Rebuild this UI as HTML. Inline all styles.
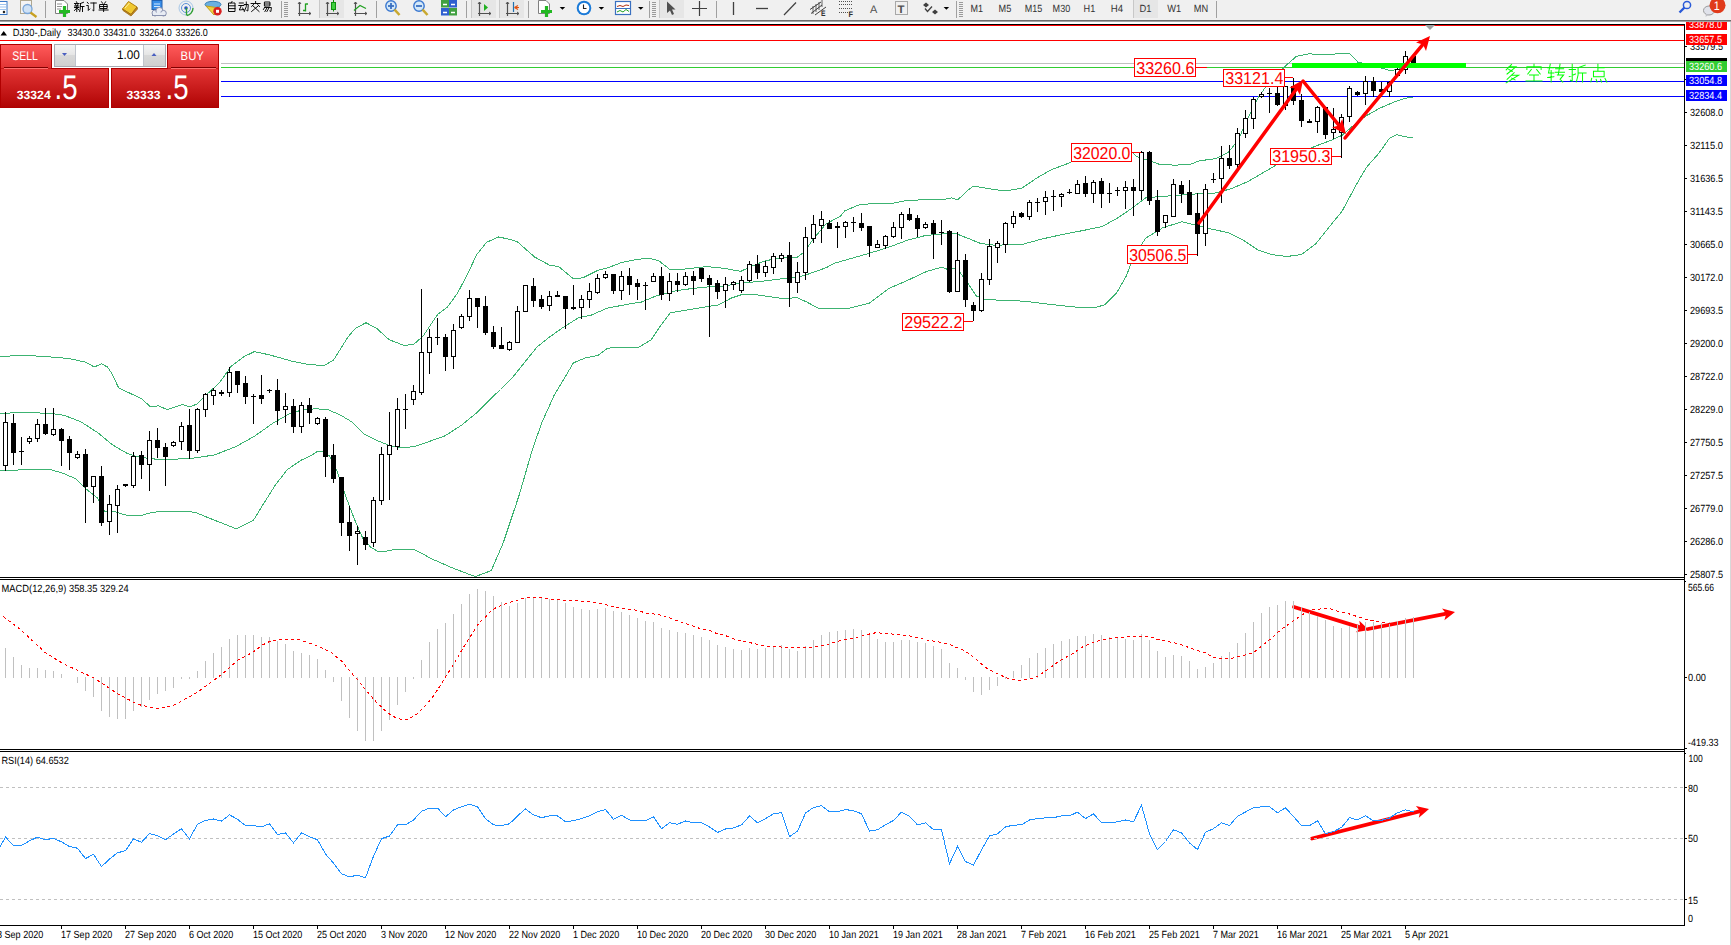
<!DOCTYPE html>
<html><head><meta charset="utf-8"><style>html,body{margin:0;padding:0;background:#fff;overflow:hidden}svg text{font-family:"Liberation Sans",sans-serif;text-rendering:geometricPrecision}</style></head><body>
<svg width="1731" height="945" viewBox="0 0 1731 945" style="display:block;font-family:'Liberation Sans',sans-serif">
<rect x="0" y="0" width="1731" height="945" fill="#ffffff"/>
<rect x="0" y="25" width="1684" height="1" fill="#ff0000"/>
<rect x="0" y="40" width="1684" height="1" fill="#ff0000"/>
<rect x="221" y="63" width="1463" height="1" fill="#c0c0c0"/>
<rect x="221" y="67" width="1463" height="1" fill="#32cd32"/>
<rect x="221" y="81" width="1463" height="1" fill="#0000ff"/>
<rect x="221" y="96" width="1463" height="1" fill="#0000ff"/>
<polyline points="-2.5,356.0 0.5,356.0 10.2,356.0 24.8,355.3 49.1,356.8 68.6,358.5 85.6,362.1 94.2,367.0 101.5,363.8 107.5,367.0 112.4,374.3 118.5,387.7 131.9,394.2 141.6,398.6 150.1,406.6 158.6,405.9 167.1,409.6 182.7,404.6 190.0,406.8 197.3,403.9 207.0,394.2 219.1,383.2 231.3,366.2 243.5,356.9 254.4,351.6 267.8,354.5 280.0,357.7 292.1,361.3 306.7,364.2 323.7,365.7 333.5,360.1 347.8,337.3 355.1,328.7 366.0,322.7 377.0,328.7 389.2,339.7 403.7,345.3 413.5,344.6 423.2,336.0 437.8,314.2 447.5,306.9 457.3,293.5 467.0,275.2 476.7,254.6 486.5,242.4 498.6,237.0 510.8,239.5 517.5,241.9 534.6,257.0 549.2,265.0 558.9,266.7 573.5,278.9 583.2,277.7 597.8,270.4 607.5,267.9 622.1,262.3 636.7,259.4 648.9,258.2 658.6,260.6 670.2,269.7 684.8,269.0 706.7,266.6 723.7,268.3 740.8,271.4 748.1,267.8 762.7,261.7 777.3,258.1 796.7,257.6 804.0,252.0 813.7,238.6 825.9,224.0 840.5,216.2 844.8,210.8 859.4,204.7 874.0,203.5 891.0,203.5 908.1,200.3 925.1,199.8 942.1,199.8 951.9,197.9 957.9,199.8 966.5,191.3 973.7,186.0 985.9,188.2 1004.8,191.0 1021.9,188.1 1036.4,178.3 1051.0,169.8 1070.5,162.5 1087.5,152.8 1107.0,146.7 1116.7,143.6 1126.5,145.5 1136.2,156.4 1150.8,161.3 1160.2,164.6 1174.8,165.1 1189.4,164.6 1199.2,160.9 1216.2,158.5 1228.3,152.4 1238.1,140.2 1247.8,118.3 1257.5,98.9 1267.3,84.3 1277.0,74.6 1286.7,64.8 1296.5,56.3 1309.4,53.8 1322.7,55.0 1337.5,53.8 1350.1,53.8 1358.3,62.7 1362.0,63.0 1383.4,68.6 1390.9,70.9 1396.8,69.4 1413.5,66.5" fill="none" stroke="#3cb371" stroke-width="1" shape-rendering="crispEdges"/>
<polyline points="-2.5,413.2 0.5,413.2 24.8,412.7 49.1,413.2 63.7,415.2 80.8,421.7 97.8,432.7 112.4,444.8 127.0,453.3 136.7,456.5 151.3,458.9 165.9,459.4 190.0,458.6 214.3,455.0 236.2,446.5 255.6,435.5 272.7,423.3 289.7,413.6 301.9,410.0 316.5,408.7 328.6,410.0 340.5,415.1 352.7,422.4 364.8,434.6 377.0,440.6 389.9,445.6 402.6,448.0 415.3,446.4 428.1,441.9 445.1,435.8 462.1,424.8 476.7,412.7 491.3,398.1 500.5,389.5 512.5,377.5 524.5,362.5 537.0,347.0 549.2,337.3 561.3,328.7 578.3,317.8 590.5,315.4 607.5,308.1 627.0,304.4 641.6,302.0 656.2,295.9 675.1,290.9 692.1,288.5 709.2,286.8 723.7,286.0 743.2,282.9 762.7,281.2 782.1,278.7 796.7,277.5 808.9,273.9 825.9,267.8 835.1,263.1 852.1,258.2 869.2,253.3 888.6,247.3 908.1,240.0 925.1,235.6 942.1,233.9 956.7,233.9 968.9,238.7 981.0,243.6 995.1,245.2 1021.9,244.5 1041.3,239.2 1060.8,234.8 1082.7,230.6 1102.1,226.5 1116.7,218.5 1131.3,208.7 1145.9,197.8 1165.1,196.2 1182.1,195.0 1199.2,193.7 1213.7,193.3 1230.8,188.9 1247.8,181.6 1262.4,173.1 1277.0,164.6 1296.5,154.8 1315.5,146.1 1330.1,140.7 1342.0,135.3 1352.4,126.4 1365.7,116.1 1379.0,108.6 1392.4,102.7 1404.2,98.6 1412.5,97.0" fill="none" stroke="#3cb371" stroke-width="1" shape-rendering="crispEdges"/>
<polyline points="-2.5,470.4 0.5,470.4 12.7,470.4 29.7,469.2 49.1,469.2 63.7,473.5 75.9,478.9 85.6,488.6 97.8,498.3 105.1,511.7 114.8,511.7 127.0,515.4 141.6,515.4 151.3,512.5 165.9,511.0 194.8,512.1 209.4,518.2 236.2,528.7 253.2,520.6 262.9,504.8 275.1,485.4 287.3,469.6 301.9,459.8 310.5,455.9 316.8,451.9 323.2,451.4 329.5,455.9 336.7,470.2 343.8,490.8 350.2,508.3 356.5,524.2 362.9,538.4 370.8,547.2 378.8,551.9 385.1,551.5 394.6,549.5 413.7,549.5 420.5,552.7 431.0,558.5 451.1,567.4 475.2,576.6 491.3,570.6 503.4,542.4 519.5,494.1 532.1,450.4 541.9,422.4 554.0,395.6 573.5,362.8 585.6,357.9 597.8,355.5 607.5,348.2 622.1,347.0 639.2,347.0 651.3,339.7 661.0,325.1 670.2,312.8 684.8,310.4 699.4,307.9 718.9,304.8 731.0,298.2 743.2,294.1 757.8,295.0 772.4,297.0 784.6,298.9 796.7,297.5 806.5,301.9 818.6,308.4 847.3,308.6 869.2,303.2 888.6,288.6 908.1,280.1 927.5,271.1 942.1,267.2 947.0,269.2 956.7,267.9 966.5,281.3 976.2,295.9 985.9,299.6 1024.3,301.2 1053.5,304.8 1077.8,307.3 1094.8,307.7 1104.6,304.8 1116.7,292.7 1126.5,275.6 1133.7,256.2 1145.9,237.9 1162.7,227.8 1182.1,221.7 1196.7,225.4 1211.3,229.0 1228.3,232.7 1242.9,240.0 1257.5,249.7 1272.1,254.6 1286.7,256.5 1301.3,254.6 1315.9,243.6 1330.5,225.4 1341.9,211.5 1359.0,179.8 1367.2,166.4 1379.0,153.1 1389.4,138.3 1396.8,134.6 1404.2,136.5 1413.1,138.0" fill="none" stroke="#3cb371" stroke-width="1" shape-rendering="crispEdges"/>
<rect x="5" y="412" width="1" height="59" fill="#000"/>
<rect x="3" y="422" width="5" height="44" fill="#000"/>
<rect x="4" y="423" width="3" height="42" fill="#fff"/>
<rect x="13" y="414" width="1" height="51" fill="#000"/>
<rect x="11" y="423" width="5" height="30" fill="#000"/>
<rect x="21" y="437" width="1" height="28" fill="#000"/>
<rect x="19" y="451" width="5" height="1" fill="#000"/>
<rect x="29" y="436" width="1" height="8" fill="#000"/>
<rect x="27" y="438" width="5" height="4" fill="#000"/>
<rect x="28" y="439" width="3" height="2" fill="#fff"/>
<rect x="37" y="419" width="1" height="23" fill="#000"/>
<rect x="35" y="424" width="5" height="15" fill="#000"/>
<rect x="36" y="425" width="3" height="13" fill="#fff"/>
<rect x="45" y="408" width="1" height="27" fill="#000"/>
<rect x="43" y="424" width="5" height="10" fill="#000"/>
<rect x="53" y="408" width="1" height="28" fill="#000"/>
<rect x="51" y="429" width="5" height="6" fill="#000"/>
<rect x="52" y="430" width="3" height="4" fill="#fff"/>
<rect x="61" y="428" width="1" height="38" fill="#000"/>
<rect x="59" y="429" width="5" height="12" fill="#000"/>
<rect x="69" y="436" width="1" height="34" fill="#000"/>
<rect x="67" y="439" width="5" height="14" fill="#000"/>
<rect x="77" y="451" width="1" height="8" fill="#000"/>
<rect x="75" y="454" width="5" height="4" fill="#000"/>
<rect x="76" y="455" width="3" height="2" fill="#fff"/>
<rect x="85" y="449" width="1" height="74" fill="#000"/>
<rect x="83" y="454" width="5" height="33" fill="#000"/>
<rect x="93" y="476" width="1" height="27" fill="#000"/>
<rect x="91" y="476" width="5" height="11" fill="#000"/>
<rect x="92" y="477" width="3" height="9" fill="#fff"/>
<rect x="101" y="466" width="1" height="60" fill="#000"/>
<rect x="99" y="476" width="5" height="47" fill="#000"/>
<rect x="109" y="495" width="1" height="40" fill="#000"/>
<rect x="107" y="504" width="5" height="18" fill="#000"/>
<rect x="108" y="505" width="3" height="16" fill="#fff"/>
<rect x="117" y="485" width="1" height="48" fill="#000"/>
<rect x="115" y="489" width="5" height="17" fill="#000"/>
<rect x="116" y="490" width="3" height="15" fill="#fff"/>
<rect x="125" y="484" width="1" height="3" fill="#000"/>
<rect x="123" y="484" width="5" height="2" fill="#000"/>
<rect x="133" y="452" width="1" height="36" fill="#000"/>
<rect x="131" y="456" width="5" height="30" fill="#000"/>
<rect x="132" y="457" width="3" height="28" fill="#fff"/>
<rect x="141" y="451" width="1" height="28" fill="#000"/>
<rect x="139" y="455" width="5" height="10" fill="#000"/>
<rect x="149" y="431" width="1" height="60" fill="#000"/>
<rect x="147" y="440" width="5" height="25" fill="#000"/>
<rect x="148" y="441" width="3" height="23" fill="#fff"/>
<rect x="157" y="428" width="1" height="30" fill="#000"/>
<rect x="155" y="440" width="5" height="8" fill="#000"/>
<rect x="165" y="443" width="1" height="43" fill="#000"/>
<rect x="163" y="447" width="5" height="10" fill="#000"/>
<rect x="173" y="441" width="1" height="6" fill="#000"/>
<rect x="171" y="442" width="5" height="4" fill="#000"/>
<rect x="172" y="443" width="3" height="2" fill="#fff"/>
<rect x="181" y="422" width="1" height="28" fill="#000"/>
<rect x="179" y="426" width="5" height="16" fill="#000"/>
<rect x="180" y="427" width="3" height="14" fill="#fff"/>
<rect x="189" y="409" width="1" height="50" fill="#000"/>
<rect x="187" y="425" width="5" height="26" fill="#000"/>
<rect x="197" y="408" width="1" height="45" fill="#000"/>
<rect x="195" y="409" width="5" height="42" fill="#000"/>
<rect x="196" y="410" width="3" height="40" fill="#fff"/>
<rect x="205" y="393" width="1" height="24" fill="#000"/>
<rect x="203" y="394" width="5" height="16" fill="#000"/>
<rect x="204" y="395" width="3" height="14" fill="#fff"/>
<rect x="213" y="388" width="1" height="17" fill="#000"/>
<rect x="211" y="390" width="5" height="6" fill="#000"/>
<rect x="212" y="391" width="3" height="4" fill="#fff"/>
<rect x="221" y="390" width="1" height="6" fill="#000"/>
<rect x="219" y="392" width="5" height="2" fill="#000"/>
<rect x="229" y="367" width="1" height="30" fill="#000"/>
<rect x="227" y="372" width="5" height="21" fill="#000"/>
<rect x="228" y="373" width="3" height="19" fill="#fff"/>
<rect x="237" y="371" width="1" height="22" fill="#000"/>
<rect x="235" y="371" width="5" height="14" fill="#000"/>
<rect x="245" y="376" width="1" height="28" fill="#000"/>
<rect x="243" y="383" width="5" height="14" fill="#000"/>
<rect x="253" y="394" width="1" height="30" fill="#000"/>
<rect x="251" y="396" width="5" height="1" fill="#000"/>
<rect x="261" y="375" width="1" height="29" fill="#000"/>
<rect x="259" y="395" width="5" height="4" fill="#000"/>
<rect x="269" y="389" width="1" height="4" fill="#000"/>
<rect x="267" y="390" width="5" height="1" fill="#000"/>
<rect x="277" y="379" width="1" height="46" fill="#000"/>
<rect x="275" y="390" width="5" height="21" fill="#000"/>
<rect x="285" y="393" width="1" height="30" fill="#000"/>
<rect x="283" y="406" width="5" height="4" fill="#000"/>
<rect x="284" y="407" width="3" height="2" fill="#fff"/>
<rect x="293" y="399" width="1" height="34" fill="#000"/>
<rect x="291" y="406" width="5" height="21" fill="#000"/>
<rect x="301" y="402" width="1" height="31" fill="#000"/>
<rect x="299" y="405" width="5" height="22" fill="#000"/>
<rect x="300" y="406" width="3" height="20" fill="#fff"/>
<rect x="309" y="398" width="1" height="26" fill="#000"/>
<rect x="307" y="405" width="5" height="8" fill="#000"/>
<rect x="317" y="417" width="1" height="8" fill="#000"/>
<rect x="315" y="418" width="5" height="6" fill="#000"/>
<rect x="316" y="419" width="3" height="4" fill="#fff"/>
<rect x="325" y="417" width="1" height="60" fill="#000"/>
<rect x="323" y="419" width="5" height="38" fill="#000"/>
<rect x="333" y="444" width="1" height="39" fill="#000"/>
<rect x="331" y="455" width="5" height="24" fill="#000"/>
<rect x="341" y="477" width="1" height="59" fill="#000"/>
<rect x="339" y="477" width="5" height="46" fill="#000"/>
<rect x="349" y="506" width="1" height="45" fill="#000"/>
<rect x="347" y="522" width="5" height="14" fill="#000"/>
<rect x="357" y="526" width="1" height="39" fill="#000"/>
<rect x="355" y="531" width="5" height="3" fill="#000"/>
<rect x="356" y="532" width="3" height="1" fill="#fff"/>
<rect x="365" y="531" width="1" height="19" fill="#000"/>
<rect x="363" y="537" width="5" height="8" fill="#000"/>
<rect x="373" y="497" width="1" height="50" fill="#000"/>
<rect x="371" y="500" width="5" height="43" fill="#000"/>
<rect x="372" y="501" width="3" height="41" fill="#fff"/>
<rect x="381" y="447" width="1" height="58" fill="#000"/>
<rect x="379" y="454" width="5" height="47" fill="#000"/>
<rect x="380" y="455" width="3" height="45" fill="#fff"/>
<rect x="389" y="412" width="1" height="88" fill="#000"/>
<rect x="387" y="445" width="5" height="10" fill="#000"/>
<rect x="388" y="446" width="3" height="8" fill="#fff"/>
<rect x="397" y="398" width="1" height="52" fill="#000"/>
<rect x="395" y="409" width="5" height="38" fill="#000"/>
<rect x="396" y="410" width="3" height="36" fill="#fff"/>
<rect x="405" y="394" width="1" height="35" fill="#000"/>
<rect x="403" y="409" width="5" height="1" fill="#000"/>
<rect x="413" y="385" width="1" height="20" fill="#000"/>
<rect x="411" y="391" width="5" height="9" fill="#000"/>
<rect x="412" y="392" width="3" height="7" fill="#fff"/>
<rect x="421" y="289" width="1" height="106" fill="#000"/>
<rect x="419" y="352" width="5" height="41" fill="#000"/>
<rect x="420" y="353" width="3" height="39" fill="#fff"/>
<rect x="429" y="329" width="1" height="45" fill="#000"/>
<rect x="427" y="337" width="5" height="16" fill="#000"/>
<rect x="428" y="338" width="3" height="14" fill="#fff"/>
<rect x="437" y="318" width="1" height="27" fill="#000"/>
<rect x="435" y="337" width="5" height="1" fill="#000"/>
<rect x="445" y="334" width="1" height="37" fill="#000"/>
<rect x="443" y="337" width="5" height="20" fill="#000"/>
<rect x="453" y="324" width="1" height="45" fill="#000"/>
<rect x="451" y="330" width="5" height="27" fill="#000"/>
<rect x="452" y="331" width="3" height="25" fill="#fff"/>
<rect x="461" y="314" width="1" height="15" fill="#000"/>
<rect x="459" y="316" width="5" height="12" fill="#000"/>
<rect x="460" y="317" width="3" height="10" fill="#fff"/>
<rect x="469" y="290" width="1" height="31" fill="#000"/>
<rect x="467" y="298" width="5" height="19" fill="#000"/>
<rect x="468" y="299" width="3" height="17" fill="#fff"/>
<rect x="477" y="298" width="1" height="30" fill="#000"/>
<rect x="475" y="298" width="5" height="9" fill="#000"/>
<rect x="485" y="296" width="1" height="39" fill="#000"/>
<rect x="483" y="306" width="5" height="27" fill="#000"/>
<rect x="493" y="326" width="1" height="23" fill="#000"/>
<rect x="491" y="332" width="5" height="15" fill="#000"/>
<rect x="501" y="327" width="1" height="22" fill="#000"/>
<rect x="499" y="345" width="5" height="4" fill="#000"/>
<rect x="509" y="341" width="1" height="10" fill="#000"/>
<rect x="507" y="342" width="5" height="8" fill="#000"/>
<rect x="508" y="343" width="3" height="6" fill="#fff"/>
<rect x="517" y="306" width="1" height="37" fill="#000"/>
<rect x="515" y="311" width="5" height="32" fill="#000"/>
<rect x="516" y="312" width="3" height="30" fill="#fff"/>
<rect x="525" y="285" width="1" height="27" fill="#000"/>
<rect x="523" y="285" width="5" height="27" fill="#000"/>
<rect x="524" y="286" width="3" height="25" fill="#fff"/>
<rect x="533" y="278" width="1" height="29" fill="#000"/>
<rect x="531" y="286" width="5" height="15" fill="#000"/>
<rect x="541" y="295" width="1" height="14" fill="#000"/>
<rect x="539" y="299" width="5" height="8" fill="#000"/>
<rect x="549" y="291" width="1" height="20" fill="#000"/>
<rect x="547" y="296" width="5" height="10" fill="#000"/>
<rect x="548" y="297" width="3" height="8" fill="#fff"/>
<rect x="557" y="291" width="1" height="6" fill="#000"/>
<rect x="555" y="295" width="5" height="2" fill="#000"/>
<rect x="565" y="296" width="1" height="33" fill="#000"/>
<rect x="563" y="296" width="5" height="13" fill="#000"/>
<rect x="573" y="285" width="1" height="25" fill="#000"/>
<rect x="571" y="307" width="5" height="2" fill="#000"/>
<rect x="581" y="295" width="1" height="24" fill="#000"/>
<rect x="579" y="299" width="5" height="9" fill="#000"/>
<rect x="580" y="300" width="3" height="7" fill="#fff"/>
<rect x="589" y="283" width="1" height="25" fill="#000"/>
<rect x="587" y="291" width="5" height="9" fill="#000"/>
<rect x="588" y="292" width="3" height="7" fill="#fff"/>
<rect x="597" y="274" width="1" height="20" fill="#000"/>
<rect x="595" y="278" width="5" height="15" fill="#000"/>
<rect x="596" y="279" width="3" height="13" fill="#fff"/>
<rect x="605" y="271" width="1" height="8" fill="#000"/>
<rect x="603" y="274" width="5" height="4" fill="#000"/>
<rect x="604" y="275" width="3" height="2" fill="#fff"/>
<rect x="613" y="274" width="1" height="20" fill="#000"/>
<rect x="611" y="274" width="5" height="17" fill="#000"/>
<rect x="621" y="271" width="1" height="29" fill="#000"/>
<rect x="619" y="276" width="5" height="15" fill="#000"/>
<rect x="620" y="277" width="3" height="13" fill="#fff"/>
<rect x="629" y="268" width="1" height="27" fill="#000"/>
<rect x="627" y="276" width="5" height="9" fill="#000"/>
<rect x="637" y="279" width="1" height="21" fill="#000"/>
<rect x="635" y="283" width="5" height="4" fill="#000"/>
<rect x="645" y="282" width="1" height="28" fill="#000"/>
<rect x="643" y="285" width="5" height="1" fill="#000"/>
<rect x="653" y="273" width="1" height="9" fill="#000"/>
<rect x="651" y="276" width="5" height="6" fill="#000"/>
<rect x="652" y="277" width="3" height="4" fill="#fff"/>
<rect x="661" y="267" width="1" height="33" fill="#000"/>
<rect x="659" y="276" width="5" height="19" fill="#000"/>
<rect x="669" y="273" width="1" height="28" fill="#000"/>
<rect x="667" y="281" width="5" height="13" fill="#000"/>
<rect x="668" y="282" width="3" height="11" fill="#fff"/>
<rect x="677" y="273" width="1" height="19" fill="#000"/>
<rect x="675" y="281" width="5" height="4" fill="#000"/>
<rect x="685" y="272" width="1" height="14" fill="#000"/>
<rect x="683" y="276" width="5" height="9" fill="#000"/>
<rect x="684" y="277" width="3" height="7" fill="#fff"/>
<rect x="693" y="271" width="1" height="24" fill="#000"/>
<rect x="691" y="276" width="5" height="5" fill="#000"/>
<rect x="701" y="268" width="1" height="14" fill="#000"/>
<rect x="699" y="268" width="5" height="11" fill="#000"/>
<rect x="709" y="275" width="1" height="62" fill="#000"/>
<rect x="707" y="278" width="5" height="7" fill="#000"/>
<rect x="717" y="280" width="1" height="19" fill="#000"/>
<rect x="715" y="283" width="5" height="9" fill="#000"/>
<rect x="725" y="277" width="1" height="31" fill="#000"/>
<rect x="723" y="284" width="5" height="7" fill="#000"/>
<rect x="724" y="285" width="3" height="5" fill="#fff"/>
<rect x="733" y="281" width="1" height="9" fill="#000"/>
<rect x="731" y="282" width="5" height="3" fill="#000"/>
<rect x="732" y="283" width="3" height="1" fill="#fff"/>
<rect x="741" y="276" width="1" height="17" fill="#000"/>
<rect x="739" y="280" width="5" height="11" fill="#000"/>
<rect x="740" y="281" width="3" height="9" fill="#fff"/>
<rect x="749" y="261" width="1" height="21" fill="#000"/>
<rect x="747" y="264" width="5" height="17" fill="#000"/>
<rect x="748" y="265" width="3" height="15" fill="#fff"/>
<rect x="757" y="255" width="1" height="24" fill="#000"/>
<rect x="755" y="264" width="5" height="9" fill="#000"/>
<rect x="765" y="261" width="1" height="16" fill="#000"/>
<rect x="763" y="266" width="5" height="7" fill="#000"/>
<rect x="764" y="267" width="3" height="5" fill="#fff"/>
<rect x="773" y="253" width="1" height="21" fill="#000"/>
<rect x="771" y="256" width="5" height="12" fill="#000"/>
<rect x="772" y="257" width="3" height="10" fill="#fff"/>
<rect x="781" y="253" width="1" height="9" fill="#000"/>
<rect x="779" y="255" width="5" height="4" fill="#000"/>
<rect x="780" y="256" width="3" height="2" fill="#fff"/>
<rect x="789" y="242" width="1" height="65" fill="#000"/>
<rect x="787" y="255" width="5" height="28" fill="#000"/>
<rect x="797" y="262" width="1" height="31" fill="#000"/>
<rect x="795" y="272" width="5" height="11" fill="#000"/>
<rect x="796" y="273" width="3" height="9" fill="#fff"/>
<rect x="805" y="227" width="1" height="53" fill="#000"/>
<rect x="803" y="237" width="5" height="36" fill="#000"/>
<rect x="804" y="238" width="3" height="34" fill="#fff"/>
<rect x="813" y="215" width="1" height="28" fill="#000"/>
<rect x="811" y="224" width="5" height="15" fill="#000"/>
<rect x="812" y="225" width="3" height="13" fill="#fff"/>
<rect x="821" y="211" width="1" height="32" fill="#000"/>
<rect x="819" y="219" width="5" height="7" fill="#000"/>
<rect x="820" y="220" width="3" height="5" fill="#fff"/>
<rect x="829" y="220" width="1" height="9" fill="#000"/>
<rect x="827" y="223" width="5" height="6" fill="#000"/>
<rect x="837" y="222" width="1" height="26" fill="#000"/>
<rect x="835" y="226" width="5" height="2" fill="#000"/>
<rect x="845" y="221" width="1" height="17" fill="#000"/>
<rect x="843" y="222" width="5" height="5" fill="#000"/>
<rect x="844" y="223" width="3" height="3" fill="#fff"/>
<rect x="853" y="217" width="1" height="15" fill="#000"/>
<rect x="851" y="222" width="5" height="1" fill="#000"/>
<rect x="861" y="213" width="1" height="18" fill="#000"/>
<rect x="859" y="223" width="5" height="5" fill="#000"/>
<rect x="869" y="226" width="1" height="31" fill="#000"/>
<rect x="867" y="226" width="5" height="20" fill="#000"/>
<rect x="877" y="240" width="1" height="8" fill="#000"/>
<rect x="875" y="244" width="5" height="4" fill="#000"/>
<rect x="876" y="245" width="3" height="2" fill="#fff"/>
<rect x="885" y="235" width="1" height="14" fill="#000"/>
<rect x="883" y="236" width="5" height="10" fill="#000"/>
<rect x="884" y="237" width="3" height="8" fill="#fff"/>
<rect x="893" y="222" width="1" height="16" fill="#000"/>
<rect x="891" y="227" width="5" height="10" fill="#000"/>
<rect x="892" y="228" width="3" height="8" fill="#fff"/>
<rect x="901" y="212" width="1" height="27" fill="#000"/>
<rect x="899" y="214" width="5" height="14" fill="#000"/>
<rect x="900" y="215" width="3" height="12" fill="#fff"/>
<rect x="909" y="208" width="1" height="13" fill="#000"/>
<rect x="907" y="214" width="5" height="6" fill="#000"/>
<rect x="917" y="215" width="1" height="22" fill="#000"/>
<rect x="915" y="218" width="5" height="11" fill="#000"/>
<rect x="925" y="222" width="1" height="7" fill="#000"/>
<rect x="923" y="224" width="5" height="4" fill="#000"/>
<rect x="924" y="225" width="3" height="2" fill="#fff"/>
<rect x="933" y="220" width="1" height="39" fill="#000"/>
<rect x="931" y="223" width="5" height="11" fill="#000"/>
<rect x="941" y="220" width="1" height="25" fill="#000"/>
<rect x="939" y="232" width="5" height="1" fill="#000"/>
<rect x="949" y="230" width="1" height="63" fill="#000"/>
<rect x="947" y="231" width="5" height="61" fill="#000"/>
<rect x="957" y="232" width="1" height="60" fill="#000"/>
<rect x="955" y="260" width="5" height="32" fill="#000"/>
<rect x="956" y="261" width="3" height="30" fill="#fff"/>
<rect x="965" y="254" width="1" height="53" fill="#000"/>
<rect x="963" y="260" width="5" height="40" fill="#000"/>
<rect x="973" y="302" width="1" height="19" fill="#000"/>
<rect x="971" y="305" width="5" height="6" fill="#000"/>
<rect x="981" y="273" width="1" height="39" fill="#000"/>
<rect x="979" y="279" width="5" height="32" fill="#000"/>
<rect x="980" y="280" width="3" height="30" fill="#fff"/>
<rect x="989" y="239" width="1" height="46" fill="#000"/>
<rect x="987" y="246" width="5" height="34" fill="#000"/>
<rect x="988" y="247" width="3" height="32" fill="#fff"/>
<rect x="997" y="241" width="1" height="22" fill="#000"/>
<rect x="995" y="243" width="5" height="5" fill="#000"/>
<rect x="996" y="244" width="3" height="3" fill="#fff"/>
<rect x="1005" y="222" width="1" height="31" fill="#000"/>
<rect x="1003" y="223" width="5" height="22" fill="#000"/>
<rect x="1004" y="224" width="3" height="20" fill="#fff"/>
<rect x="1013" y="211" width="1" height="17" fill="#000"/>
<rect x="1011" y="216" width="5" height="8" fill="#000"/>
<rect x="1012" y="217" width="3" height="6" fill="#fff"/>
<rect x="1021" y="212" width="1" height="6" fill="#000"/>
<rect x="1019" y="213" width="5" height="4" fill="#000"/>
<rect x="1029" y="200" width="1" height="20" fill="#000"/>
<rect x="1027" y="202" width="5" height="15" fill="#000"/>
<rect x="1028" y="203" width="3" height="13" fill="#fff"/>
<rect x="1037" y="198" width="1" height="14" fill="#000"/>
<rect x="1035" y="202" width="5" height="1" fill="#000"/>
<rect x="1045" y="191" width="1" height="24" fill="#000"/>
<rect x="1043" y="197" width="5" height="5" fill="#000"/>
<rect x="1044" y="198" width="3" height="3" fill="#fff"/>
<rect x="1053" y="190" width="1" height="21" fill="#000"/>
<rect x="1051" y="196" width="5" height="1" fill="#000"/>
<rect x="1061" y="193" width="1" height="14" fill="#000"/>
<rect x="1059" y="194" width="5" height="3" fill="#000"/>
<rect x="1060" y="195" width="3" height="1" fill="#fff"/>
<rect x="1069" y="189" width="1" height="5" fill="#000"/>
<rect x="1067" y="192" width="5" height="1" fill="#000"/>
<rect x="1077" y="180" width="1" height="14" fill="#000"/>
<rect x="1075" y="184" width="5" height="10" fill="#000"/>
<rect x="1076" y="185" width="3" height="8" fill="#fff"/>
<rect x="1085" y="176" width="1" height="21" fill="#000"/>
<rect x="1083" y="183" width="5" height="11" fill="#000"/>
<rect x="1093" y="180" width="1" height="23" fill="#000"/>
<rect x="1091" y="182" width="5" height="12" fill="#000"/>
<rect x="1092" y="183" width="3" height="10" fill="#fff"/>
<rect x="1101" y="178" width="1" height="30" fill="#000"/>
<rect x="1099" y="181" width="5" height="13" fill="#000"/>
<rect x="1109" y="183" width="1" height="20" fill="#000"/>
<rect x="1107" y="193" width="5" height="1" fill="#000"/>
<rect x="1117" y="187" width="1" height="9" fill="#000"/>
<rect x="1115" y="190" width="5" height="1" fill="#000"/>
<rect x="1125" y="181" width="1" height="28" fill="#000"/>
<rect x="1123" y="187" width="5" height="4" fill="#000"/>
<rect x="1124" y="188" width="3" height="2" fill="#fff"/>
<rect x="1133" y="179" width="1" height="37" fill="#000"/>
<rect x="1131" y="187" width="5" height="4" fill="#000"/>
<rect x="1141" y="151" width="1" height="49" fill="#000"/>
<rect x="1139" y="152" width="5" height="39" fill="#000"/>
<rect x="1140" y="153" width="3" height="37" fill="#fff"/>
<rect x="1149" y="151" width="1" height="54" fill="#000"/>
<rect x="1147" y="152" width="5" height="49" fill="#000"/>
<rect x="1157" y="190" width="1" height="46" fill="#000"/>
<rect x="1155" y="200" width="5" height="32" fill="#000"/>
<rect x="1165" y="215" width="1" height="13" fill="#000"/>
<rect x="1163" y="215" width="5" height="8" fill="#000"/>
<rect x="1164" y="216" width="3" height="6" fill="#fff"/>
<rect x="1173" y="179" width="1" height="38" fill="#000"/>
<rect x="1171" y="184" width="5" height="33" fill="#000"/>
<rect x="1172" y="185" width="3" height="31" fill="#fff"/>
<rect x="1181" y="181" width="1" height="22" fill="#000"/>
<rect x="1179" y="185" width="5" height="9" fill="#000"/>
<rect x="1189" y="180" width="1" height="35" fill="#000"/>
<rect x="1187" y="192" width="5" height="23" fill="#000"/>
<rect x="1197" y="193" width="1" height="63" fill="#000"/>
<rect x="1195" y="213" width="5" height="21" fill="#000"/>
<rect x="1205" y="184" width="1" height="62" fill="#000"/>
<rect x="1203" y="189" width="5" height="45" fill="#000"/>
<rect x="1204" y="190" width="3" height="43" fill="#fff"/>
<rect x="1213" y="173" width="1" height="10" fill="#000"/>
<rect x="1211" y="179" width="5" height="1" fill="#000"/>
<rect x="1221" y="146" width="1" height="57" fill="#000"/>
<rect x="1219" y="158" width="5" height="21" fill="#000"/>
<rect x="1220" y="159" width="3" height="19" fill="#fff"/>
<rect x="1229" y="145" width="1" height="24" fill="#000"/>
<rect x="1227" y="158" width="5" height="8" fill="#000"/>
<rect x="1237" y="128" width="1" height="41" fill="#000"/>
<rect x="1235" y="133" width="5" height="32" fill="#000"/>
<rect x="1236" y="134" width="3" height="30" fill="#fff"/>
<rect x="1245" y="110" width="1" height="28" fill="#000"/>
<rect x="1243" y="118" width="5" height="16" fill="#000"/>
<rect x="1244" y="119" width="3" height="14" fill="#fff"/>
<rect x="1253" y="97" width="1" height="32" fill="#000"/>
<rect x="1251" y="99" width="5" height="20" fill="#000"/>
<rect x="1252" y="100" width="3" height="18" fill="#fff"/>
<rect x="1261" y="92" width="1" height="6" fill="#000"/>
<rect x="1259" y="94" width="5" height="3" fill="#000"/>
<rect x="1260" y="95" width="3" height="1" fill="#fff"/>
<rect x="1269" y="88" width="1" height="25" fill="#000"/>
<rect x="1267" y="93" width="5" height="1" fill="#000"/>
<rect x="1277" y="87" width="1" height="19" fill="#000"/>
<rect x="1275" y="93" width="5" height="12" fill="#000"/>
<rect x="1285" y="86" width="1" height="24" fill="#000"/>
<rect x="1283" y="86" width="5" height="20" fill="#000"/>
<rect x="1284" y="87" width="3" height="18" fill="#fff"/>
<rect x="1293" y="78" width="1" height="27" fill="#000"/>
<rect x="1291" y="86" width="5" height="15" fill="#000"/>
<rect x="1301" y="94" width="1" height="33" fill="#000"/>
<rect x="1299" y="100" width="5" height="21" fill="#000"/>
<rect x="1309" y="119" width="1" height="4" fill="#000"/>
<rect x="1307" y="121" width="5" height="2" fill="#000"/>
<rect x="1317" y="106" width="1" height="27" fill="#000"/>
<rect x="1315" y="107" width="5" height="15" fill="#000"/>
<rect x="1316" y="108" width="3" height="13" fill="#fff"/>
<rect x="1325" y="107" width="1" height="32" fill="#000"/>
<rect x="1323" y="107" width="5" height="28" fill="#000"/>
<rect x="1333" y="108" width="1" height="31" fill="#000"/>
<rect x="1331" y="129" width="5" height="4" fill="#000"/>
<rect x="1332" y="130" width="3" height="2" fill="#fff"/>
<rect x="1341" y="114" width="1" height="44" fill="#000"/>
<rect x="1339" y="117" width="5" height="16" fill="#000"/>
<rect x="1340" y="118" width="3" height="14" fill="#fff"/>
<rect x="1349" y="86" width="1" height="36" fill="#000"/>
<rect x="1347" y="88" width="5" height="29" fill="#000"/>
<rect x="1348" y="89" width="3" height="27" fill="#fff"/>
<rect x="1357" y="91" width="1" height="5" fill="#000"/>
<rect x="1355" y="92" width="5" height="3" fill="#000"/>
<rect x="1365" y="76" width="1" height="29" fill="#000"/>
<rect x="1363" y="81" width="5" height="13" fill="#000"/>
<rect x="1364" y="82" width="3" height="11" fill="#fff"/>
<rect x="1373" y="77" width="1" height="20" fill="#000"/>
<rect x="1371" y="81" width="5" height="10" fill="#000"/>
<rect x="1381" y="82" width="1" height="15" fill="#000"/>
<rect x="1379" y="89" width="5" height="3" fill="#000"/>
<rect x="1389" y="81" width="1" height="16" fill="#000"/>
<rect x="1387" y="82" width="5" height="10" fill="#000"/>
<rect x="1388" y="83" width="3" height="8" fill="#fff"/>
<rect x="1397" y="68" width="1" height="9" fill="#000"/>
<rect x="1395" y="69" width="5" height="7" fill="#000"/>
<rect x="1396" y="70" width="3" height="5" fill="#fff"/>
<rect x="1405" y="51" width="1" height="23" fill="#000"/>
<rect x="1403" y="56" width="5" height="14" fill="#000"/>
<rect x="1404" y="57" width="3" height="12" fill="#fff"/>
<rect x="1413" y="56" width="1" height="8" fill="#000"/>
<rect x="1411" y="56" width="5" height="8" fill="#000"/>
<rect x="1292" y="63" width="174" height="5" fill="#00ff00"/>
<rect x="1134.5" y="58.5" width="61" height="18" fill="#fff" stroke="#ff0000" stroke-width="1" shape-rendering="crispEdges"/>
<polyline points="1195.5,67.5 1206.5,67.5" fill="none" stroke="#ff0000" stroke-width="1" shape-rendering="crispEdges"/>
<text x="1136.20" y="74.20" font-size="17.2" fill="#ff0000" textLength="58.20" lengthAdjust="spacingAndGlyphs">33260.6</text>
<rect x="1223.5" y="69.5" width="61" height="17" fill="#fff" stroke="#ff0000" stroke-width="1" shape-rendering="crispEdges"/>
<polyline points="1284.5,77.5 1293.0,77.5" fill="none" stroke="#ff0000" stroke-width="1" shape-rendering="crispEdges"/>
<text x="1225.20" y="84.20" font-size="17.2" fill="#ff0000" textLength="58.20" lengthAdjust="spacingAndGlyphs">33121.4</text>
<rect x="1071.5" y="143.5" width="60" height="18" fill="#fff" stroke="#ff0000" stroke-width="1" shape-rendering="crispEdges"/>
<polyline points="1131.5,152.5 1141.0,152.5" fill="none" stroke="#ff0000" stroke-width="1" shape-rendering="crispEdges"/>
<text x="1073.20" y="159.20" font-size="17.2" fill="#ff0000" textLength="57.20" lengthAdjust="spacingAndGlyphs">32020.0</text>
<rect x="1127.5" y="245.5" width="60" height="18" fill="#fff" stroke="#ff0000" stroke-width="1" shape-rendering="crispEdges"/>
<polyline points="1187.5,254.5 1197.0,254.5" fill="none" stroke="#ff0000" stroke-width="1" shape-rendering="crispEdges"/>
<text x="1129.20" y="261.20" font-size="17.2" fill="#ff0000" textLength="57.20" lengthAdjust="spacingAndGlyphs">30506.5</text>
<rect x="1270.5" y="148.5" width="61" height="16" fill="#fff" stroke="#ff0000" stroke-width="1" shape-rendering="crispEdges"/>
<polyline points="1331.5,156.5 1341.0,156.5" fill="none" stroke="#ff0000" stroke-width="1" shape-rendering="crispEdges"/>
<text x="1272.20" y="162.20" font-size="17.2" fill="#ff0000" textLength="58.20" lengthAdjust="spacingAndGlyphs">31950.3</text>
<rect x="902.5" y="313.5" width="61" height="17" fill="#fff" stroke="#ff0000" stroke-width="1" shape-rendering="crispEdges"/>
<polyline points="963.5,321.5 973.0,321.5" fill="none" stroke="#ff0000" stroke-width="1" shape-rendering="crispEdges"/>
<text x="904.20" y="328.20" font-size="17.2" fill="#ff0000" textLength="58.20" lengthAdjust="spacingAndGlyphs">29522.2</text>
<line x1="1199.0" y1="223.0" x2="1295.9" y2="89.7" stroke="#ff0000" stroke-width="3.5" stroke-linecap="round"/>
<polygon points="1303.0,80.0 1300.0,95.1 1296.5,88.9 1289.5,87.5" fill="#ff0000"/>
<line x1="1303.0" y1="81.0" x2="1338.4" y2="124.7" stroke="#ff0000" stroke-width="3.5" stroke-linecap="round"/>
<polygon points="1346.0,134.0 1332.1,127.2 1339.1,125.5 1342.2,119.0" fill="#ff0000"/>
<line x1="1345.0" y1="138.0" x2="1422.3" y2="45.2" stroke="#ff0000" stroke-width="3.5" stroke-linecap="round"/>
<polygon points="1430.0,36.0 1426.0,50.9 1423.0,44.5 1416.0,42.6" fill="#ff0000"/>
<line x1="1294.0" y1="607.0" x2="1359.4" y2="627.1" stroke="#ff0000" stroke-width="3.8" stroke-linecap="round"/>
<polygon points="1369.0,630.0 1355.8,632.2 1360.4,627.4 1359.3,620.7" fill="#ff0000"/>
<line x1="1368.0" y1="629.0" x2="1445.2" y2="613.9" stroke="#ff0000" stroke-width="3.8" stroke-linecap="round"/>
<polygon points="1455.0,612.0 1444.4,620.2 1446.2,613.7 1442.1,608.4" fill="#ff0000"/>
<line x1="1312.0" y1="838.5" x2="1419.3" y2="811.4" stroke="#ff0000" stroke-width="3.8" stroke-linecap="round"/>
<polygon points="1429.0,809.0 1418.8,817.8 1420.3,811.2 1415.9,806.1" fill="#ff0000"/>
<polygon points="1425,25 1435,25 1430,30" fill="#a0a0a0"/>
<polygon points="0.5,35.5 7,35.5 3.7,31" fill="#000"/>
<text x="12.70" y="36.00" font-size="10.4" fill="#000" textLength="48.10" lengthAdjust="spacingAndGlyphs">DJ30-,Daily</text>
<text x="67.40" y="36.00" font-size="10.4" fill="#000" textLength="32.40" lengthAdjust="spacingAndGlyphs">33430.0</text>
<text x="103.20" y="36.00" font-size="10.4" fill="#000" textLength="32.40" lengthAdjust="spacingAndGlyphs">33431.0</text>
<text x="139.40" y="36.00" font-size="10.4" fill="#000" textLength="32.40" lengthAdjust="spacingAndGlyphs">33264.0</text>
<text x="175.40" y="36.00" font-size="10.4" fill="#000" textLength="32.40" lengthAdjust="spacingAndGlyphs">33326.0</text>
<rect x="0" y="24" width="1685" height="1" fill="#000"/>
<rect x="0" y="577" width="1685" height="1" fill="#000"/>
<rect x="0" y="579" width="1685" height="1" fill="#000"/>
<rect x="0" y="749" width="1685" height="1" fill="#000"/>
<rect x="0" y="751" width="1685" height="1" fill="#000"/>
<rect x="0" y="925" width="1685" height="1" fill="#000"/>
<rect x="1684" y="24" width="1" height="902" fill="#000"/>
<rect x="5" y="648" width="1" height="30" fill="#c0c0c0"/>
<rect x="13" y="657" width="1" height="21" fill="#c0c0c0"/>
<rect x="21" y="665" width="1" height="13" fill="#c0c0c0"/>
<rect x="29" y="668" width="1" height="10" fill="#c0c0c0"/>
<rect x="37" y="668" width="1" height="10" fill="#c0c0c0"/>
<rect x="45" y="670" width="1" height="8" fill="#c0c0c0"/>
<rect x="53" y="671" width="1" height="7" fill="#c0c0c0"/>
<rect x="61" y="674" width="1" height="4" fill="#c0c0c0"/>
<rect x="77" y="677" width="1" height="6" fill="#c0c0c0"/>
<rect x="85" y="677" width="1" height="14" fill="#c0c0c0"/>
<rect x="93" y="677" width="1" height="20" fill="#c0c0c0"/>
<rect x="101" y="677" width="1" height="34" fill="#c0c0c0"/>
<rect x="109" y="677" width="1" height="40" fill="#c0c0c0"/>
<rect x="117" y="677" width="1" height="42" fill="#c0c0c0"/>
<rect x="125" y="677" width="1" height="42" fill="#c0c0c0"/>
<rect x="133" y="677" width="1" height="34" fill="#c0c0c0"/>
<rect x="141" y="677" width="1" height="30" fill="#c0c0c0"/>
<rect x="149" y="677" width="1" height="23" fill="#c0c0c0"/>
<rect x="157" y="677" width="1" height="17" fill="#c0c0c0"/>
<rect x="165" y="677" width="1" height="14" fill="#c0c0c0"/>
<rect x="173" y="677" width="1" height="11" fill="#c0c0c0"/>
<rect x="181" y="677" width="1" height="2" fill="#c0c0c0"/>
<rect x="189" y="677" width="1" height="2" fill="#c0c0c0"/>
<rect x="197" y="671" width="1" height="7" fill="#c0c0c0"/>
<rect x="205" y="661" width="1" height="17" fill="#c0c0c0"/>
<rect x="213" y="653" width="1" height="25" fill="#c0c0c0"/>
<rect x="221" y="647" width="1" height="31" fill="#c0c0c0"/>
<rect x="229" y="639" width="1" height="39" fill="#c0c0c0"/>
<rect x="237" y="635" width="1" height="43" fill="#c0c0c0"/>
<rect x="245" y="635" width="1" height="43" fill="#c0c0c0"/>
<rect x="253" y="635" width="1" height="43" fill="#c0c0c0"/>
<rect x="261" y="637" width="1" height="41" fill="#c0c0c0"/>
<rect x="269" y="637" width="1" height="41" fill="#c0c0c0"/>
<rect x="277" y="641" width="1" height="37" fill="#c0c0c0"/>
<rect x="285" y="644" width="1" height="34" fill="#c0c0c0"/>
<rect x="293" y="651" width="1" height="27" fill="#c0c0c0"/>
<rect x="301" y="653" width="1" height="25" fill="#c0c0c0"/>
<rect x="309" y="655" width="1" height="23" fill="#c0c0c0"/>
<rect x="317" y="659" width="1" height="19" fill="#c0c0c0"/>
<rect x="325" y="670" width="1" height="8" fill="#c0c0c0"/>
<rect x="333" y="677" width="1" height="5" fill="#c0c0c0"/>
<rect x="341" y="677" width="1" height="24" fill="#c0c0c0"/>
<rect x="349" y="677" width="1" height="41" fill="#c0c0c0"/>
<rect x="357" y="677" width="1" height="54" fill="#c0c0c0"/>
<rect x="365" y="677" width="1" height="64" fill="#c0c0c0"/>
<rect x="373" y="677" width="1" height="64" fill="#c0c0c0"/>
<rect x="381" y="677" width="1" height="54" fill="#c0c0c0"/>
<rect x="389" y="677" width="1" height="43" fill="#c0c0c0"/>
<rect x="397" y="677" width="1" height="28" fill="#c0c0c0"/>
<rect x="405" y="677" width="1" height="15" fill="#c0c0c0"/>
<rect x="413" y="677" width="1" height="2" fill="#c0c0c0"/>
<rect x="421" y="660" width="1" height="18" fill="#c0c0c0"/>
<rect x="429" y="642" width="1" height="36" fill="#c0c0c0"/>
<rect x="437" y="629" width="1" height="49" fill="#c0c0c0"/>
<rect x="445" y="623" width="1" height="55" fill="#c0c0c0"/>
<rect x="453" y="614" width="1" height="64" fill="#c0c0c0"/>
<rect x="461" y="604" width="1" height="74" fill="#c0c0c0"/>
<rect x="469" y="594" width="1" height="84" fill="#c0c0c0"/>
<rect x="477" y="589" width="1" height="89" fill="#c0c0c0"/>
<rect x="485" y="591" width="1" height="87" fill="#c0c0c0"/>
<rect x="493" y="596" width="1" height="82" fill="#c0c0c0"/>
<rect x="501" y="602" width="1" height="76" fill="#c0c0c0"/>
<rect x="509" y="606" width="1" height="72" fill="#c0c0c0"/>
<rect x="517" y="603" width="1" height="75" fill="#c0c0c0"/>
<rect x="525" y="598" width="1" height="80" fill="#c0c0c0"/>
<rect x="533" y="597" width="1" height="81" fill="#c0c0c0"/>
<rect x="541" y="598" width="1" height="80" fill="#c0c0c0"/>
<rect x="549" y="599" width="1" height="79" fill="#c0c0c0"/>
<rect x="557" y="600" width="1" height="78" fill="#c0c0c0"/>
<rect x="565" y="603" width="1" height="75" fill="#c0c0c0"/>
<rect x="573" y="607" width="1" height="71" fill="#c0c0c0"/>
<rect x="581" y="609" width="1" height="69" fill="#c0c0c0"/>
<rect x="589" y="610" width="1" height="68" fill="#c0c0c0"/>
<rect x="597" y="609" width="1" height="69" fill="#c0c0c0"/>
<rect x="605" y="608" width="1" height="70" fill="#c0c0c0"/>
<rect x="613" y="611" width="1" height="67" fill="#c0c0c0"/>
<rect x="621" y="612" width="1" height="66" fill="#c0c0c0"/>
<rect x="629" y="615" width="1" height="63" fill="#c0c0c0"/>
<rect x="637" y="618" width="1" height="60" fill="#c0c0c0"/>
<rect x="645" y="621" width="1" height="57" fill="#c0c0c0"/>
<rect x="653" y="622" width="1" height="56" fill="#c0c0c0"/>
<rect x="661" y="628" width="1" height="50" fill="#c0c0c0"/>
<rect x="669" y="630" width="1" height="48" fill="#c0c0c0"/>
<rect x="677" y="632" width="1" height="46" fill="#c0c0c0"/>
<rect x="685" y="633" width="1" height="45" fill="#c0c0c0"/>
<rect x="693" y="635" width="1" height="43" fill="#c0c0c0"/>
<rect x="701" y="637" width="1" height="41" fill="#c0c0c0"/>
<rect x="709" y="640" width="1" height="38" fill="#c0c0c0"/>
<rect x="717" y="645" width="1" height="33" fill="#c0c0c0"/>
<rect x="725" y="647" width="1" height="31" fill="#c0c0c0"/>
<rect x="733" y="649" width="1" height="29" fill="#c0c0c0"/>
<rect x="741" y="650" width="1" height="28" fill="#c0c0c0"/>
<rect x="749" y="648" width="1" height="30" fill="#c0c0c0"/>
<rect x="757" y="649" width="1" height="29" fill="#c0c0c0"/>
<rect x="765" y="648" width="1" height="30" fill="#c0c0c0"/>
<rect x="773" y="646" width="1" height="32" fill="#c0c0c0"/>
<rect x="781" y="645" width="1" height="33" fill="#c0c0c0"/>
<rect x="789" y="649" width="1" height="29" fill="#c0c0c0"/>
<rect x="797" y="651" width="1" height="27" fill="#c0c0c0"/>
<rect x="805" y="646" width="1" height="32" fill="#c0c0c0"/>
<rect x="813" y="640" width="1" height="38" fill="#c0c0c0"/>
<rect x="821" y="635" width="1" height="43" fill="#c0c0c0"/>
<rect x="829" y="632" width="1" height="46" fill="#c0c0c0"/>
<rect x="837" y="631" width="1" height="47" fill="#c0c0c0"/>
<rect x="845" y="630" width="1" height="48" fill="#c0c0c0"/>
<rect x="853" y="629" width="1" height="49" fill="#c0c0c0"/>
<rect x="861" y="630" width="1" height="48" fill="#c0c0c0"/>
<rect x="869" y="635" width="1" height="43" fill="#c0c0c0"/>
<rect x="877" y="639" width="1" height="39" fill="#c0c0c0"/>
<rect x="885" y="642" width="1" height="36" fill="#c0c0c0"/>
<rect x="893" y="642" width="1" height="36" fill="#c0c0c0"/>
<rect x="901" y="640" width="1" height="38" fill="#c0c0c0"/>
<rect x="909" y="640" width="1" height="38" fill="#c0c0c0"/>
<rect x="917" y="642" width="1" height="36" fill="#c0c0c0"/>
<rect x="925" y="643" width="1" height="35" fill="#c0c0c0"/>
<rect x="933" y="646" width="1" height="32" fill="#c0c0c0"/>
<rect x="941" y="649" width="1" height="29" fill="#c0c0c0"/>
<rect x="949" y="663" width="1" height="15" fill="#c0c0c0"/>
<rect x="957" y="668" width="1" height="10" fill="#c0c0c0"/>
<rect x="965" y="677" width="1" height="3" fill="#c0c0c0"/>
<rect x="973" y="677" width="1" height="15" fill="#c0c0c0"/>
<rect x="981" y="677" width="1" height="18" fill="#c0c0c0"/>
<rect x="989" y="677" width="1" height="13" fill="#c0c0c0"/>
<rect x="997" y="677" width="1" height="9" fill="#c0c0c0"/>
<rect x="1005" y="677" width="1" height="2" fill="#c0c0c0"/>
<rect x="1013" y="671" width="1" height="7" fill="#c0c0c0"/>
<rect x="1021" y="665" width="1" height="13" fill="#c0c0c0"/>
<rect x="1029" y="658" width="1" height="20" fill="#c0c0c0"/>
<rect x="1037" y="653" width="1" height="25" fill="#c0c0c0"/>
<rect x="1045" y="648" width="1" height="30" fill="#c0c0c0"/>
<rect x="1053" y="644" width="1" height="34" fill="#c0c0c0"/>
<rect x="1061" y="641" width="1" height="37" fill="#c0c0c0"/>
<rect x="1069" y="639" width="1" height="39" fill="#c0c0c0"/>
<rect x="1077" y="636" width="1" height="42" fill="#c0c0c0"/>
<rect x="1085" y="636" width="1" height="42" fill="#c0c0c0"/>
<rect x="1093" y="634" width="1" height="44" fill="#c0c0c0"/>
<rect x="1101" y="635" width="1" height="43" fill="#c0c0c0"/>
<rect x="1109" y="637" width="1" height="41" fill="#c0c0c0"/>
<rect x="1117" y="638" width="1" height="40" fill="#c0c0c0"/>
<rect x="1125" y="639" width="1" height="39" fill="#c0c0c0"/>
<rect x="1133" y="640" width="1" height="38" fill="#c0c0c0"/>
<rect x="1141" y="634" width="1" height="44" fill="#c0c0c0"/>
<rect x="1149" y="640" width="1" height="38" fill="#c0c0c0"/>
<rect x="1157" y="651" width="1" height="27" fill="#c0c0c0"/>
<rect x="1165" y="657" width="1" height="21" fill="#c0c0c0"/>
<rect x="1173" y="655" width="1" height="23" fill="#c0c0c0"/>
<rect x="1181" y="656" width="1" height="22" fill="#c0c0c0"/>
<rect x="1189" y="661" width="1" height="17" fill="#c0c0c0"/>
<rect x="1197" y="669" width="1" height="9" fill="#c0c0c0"/>
<rect x="1205" y="667" width="1" height="11" fill="#c0c0c0"/>
<rect x="1213" y="663" width="1" height="15" fill="#c0c0c0"/>
<rect x="1221" y="656" width="1" height="22" fill="#c0c0c0"/>
<rect x="1229" y="652" width="1" height="26" fill="#c0c0c0"/>
<rect x="1237" y="643" width="1" height="35" fill="#c0c0c0"/>
<rect x="1245" y="633" width="1" height="45" fill="#c0c0c0"/>
<rect x="1253" y="622" width="1" height="56" fill="#c0c0c0"/>
<rect x="1261" y="613" width="1" height="65" fill="#c0c0c0"/>
<rect x="1269" y="607" width="1" height="71" fill="#c0c0c0"/>
<rect x="1277" y="605" width="1" height="73" fill="#c0c0c0"/>
<rect x="1285" y="601" width="1" height="77" fill="#c0c0c0"/>
<rect x="1293" y="601" width="1" height="77" fill="#c0c0c0"/>
<rect x="1301" y="607" width="1" height="71" fill="#c0c0c0"/>
<rect x="1309" y="612" width="1" height="66" fill="#c0c0c0"/>
<rect x="1317" y="616" width="1" height="62" fill="#c0c0c0"/>
<rect x="1325" y="620" width="1" height="58" fill="#c0c0c0"/>
<rect x="1333" y="626" width="1" height="52" fill="#c0c0c0"/>
<rect x="1341" y="628" width="1" height="50" fill="#c0c0c0"/>
<rect x="1349" y="626" width="1" height="52" fill="#c0c0c0"/>
<rect x="1357" y="625" width="1" height="53" fill="#c0c0c0"/>
<rect x="1365" y="622" width="1" height="56" fill="#c0c0c0"/>
<rect x="1373" y="622" width="1" height="56" fill="#c0c0c0"/>
<rect x="1381" y="623" width="1" height="55" fill="#c0c0c0"/>
<rect x="1389" y="622" width="1" height="56" fill="#c0c0c0"/>
<rect x="1397" y="621" width="1" height="57" fill="#c0c0c0"/>
<rect x="1405" y="618" width="1" height="60" fill="#c0c0c0"/>
<rect x="1413" y="617" width="1" height="61" fill="#c0c0c0"/>
<polyline points="3.4,616.6 20.1,629.3 45.5,652.8 63.1,663.6 94.5,678.3 118.0,693.9 137.5,704.3 157.1,709.0 172.8,705.7 196.3,693.0 221.7,674.4 237.7,660.2 245.8,656.1 253.9,651.6 262.0,645.3 269.2,641.7 277.3,639.9 285.4,639.0 293.5,639.0 299.8,639.9 307.9,642.6 316.9,645.6 324.1,648.9 331.3,652.5 342.0,661.5 349.2,670.5 356.4,678.6 365.4,689.4 374.4,700.1 383.4,709.1 392.4,716.3 401.4,719.4 408.6,719.0 417.6,713.6 424.8,706.4 433.8,695.7 444.6,678.6 453.6,664.2 462.6,648.9 470.5,636.3 478.6,623.7 484.9,617.4 490.3,612.0 495.7,607.8 502.9,604.8 513.7,601.2 524.5,598.0 533.5,597.1 542.5,598.0 556.9,599.8 571.3,600.7 585.6,601.2 596.4,603.0 607.2,605.1 619.8,607.8 636.0,610.2 646.8,613.2 659.4,614.7 668.4,617.4 679.2,621.5 690.0,625.1 699.0,628.2 710.5,630.9 717.7,633.9 724.9,635.4 733.9,639.0 742.9,641.1 753.7,643.5 764.5,646.2 782.5,647.1 800.5,648.0 811.3,647.4 827.4,644.4 840.0,640.8 854.4,638.1 867.0,634.5 876.0,632.7 890.4,633.9 899.4,634.5 912.0,636.3 926.4,639.9 937.2,641.7 950.5,644.7 957.7,648.0 964.9,650.7 975.7,659.1 986.5,668.1 999.1,674.4 1008.1,678.6 1019.8,680.9 1029.7,678.9 1036.9,676.8 1047.7,669.6 1058.5,661.5 1072.8,653.4 1083.6,646.2 1094.4,642.0 1103.4,639.5 1116.0,637.7 1130.4,636.8 1150.2,636.8 1159.2,639.9 1168.2,641.7 1177.2,643.5 1190.5,648.0 1197.7,650.7 1204.9,652.5 1212.1,657.0 1222.9,658.8 1230.1,658.8 1239.1,656.6 1248.1,654.3 1253.5,652.5 1262.5,645.3 1271.5,638.1 1280.5,630.0 1289.5,623.7 1302.1,614.7 1312.9,609.7 1321.9,608.8 1330.9,608.9 1339.9,612.0 1348.9,613.8 1359.7,617.4 1370.5,620.5 1381.3,621.9 1388.5,623.7 1413.5,620.5" fill="none" stroke="#ff0000" stroke-width="1" shape-rendering="crispEdges" stroke-dasharray="3,3"/>
<text x="1.60" y="592.00" font-size="10.4" fill="#000" textLength="127.00" lengthAdjust="spacingAndGlyphs">MACD(12,26,9) 358.35 329.24</text>
<line x1="0" y1="787.5" x2="1684" y2="787.5" stroke="#c0c0c0" stroke-width="1" stroke-dasharray="3,3" shape-rendering="crispEdges"/>
<line x1="0" y1="838.5" x2="1684" y2="838.5" stroke="#c0c0c0" stroke-width="1" stroke-dasharray="3,3" shape-rendering="crispEdges"/>
<line x1="0" y1="899.5" x2="1684" y2="899.5" stroke="#c0c0c0" stroke-width="1" stroke-dasharray="3,3" shape-rendering="crispEdges"/>
<polyline points="-2.5,851.5 5.5,837.1 13.5,845.5 21.5,845.5 29.5,840.9 37.5,837.1 45.5,839.8 53.5,838.2 61.5,841.9 69.5,846.5 77.5,848.2 85.5,858.6 93.5,854.2 101.5,866.7 109.5,859.0 117.5,852.8 125.5,850.7 133.5,838.8 141.5,842.3 149.5,833.6 157.5,835.7 165.5,839.8 173.5,834.0 181.5,828.8 189.5,838.8 197.5,824.2 205.5,820.4 213.5,819.0 221.5,821.1 229.5,814.8 237.5,819.3 245.5,825.6 253.5,825.6 261.5,826.9 269.5,823.8 277.5,834.6 285.5,832.9 293.5,842.9 301.5,832.9 309.5,836.7 317.5,839.8 325.5,854.0 333.5,863.0 341.5,873.7 349.5,876.9 357.5,875.1 365.5,877.8 373.5,856.1 381.5,838.7 389.5,836.0 397.5,824.9 405.5,824.9 413.5,820.0 421.5,811.3 429.5,808.0 437.5,808.0 445.5,816.8 453.5,809.9 461.5,806.8 469.5,804.1 477.5,806.8 485.5,818.6 493.5,824.9 501.5,825.6 509.5,823.8 517.5,815.9 525.5,808.9 533.5,814.9 541.5,817.7 549.5,815.9 557.5,815.9 565.5,821.8 573.5,820.7 581.5,818.6 589.5,815.9 597.5,811.7 605.5,809.6 613.5,819.3 621.5,815.2 629.5,820.0 637.5,820.7 645.5,820.7 653.5,816.8 661.5,828.7 669.5,822.8 677.5,824.2 685.5,821.0 693.5,822.8 701.5,822.8 709.5,826.9 717.5,832.5 725.5,829.0 733.5,827.9 741.5,824.9 749.5,815.9 757.5,822.8 765.5,818.6 773.5,813.8 781.5,812.7 789.5,836.7 797.5,831.1 805.5,813.1 813.5,807.5 821.5,805.7 829.5,811.7 837.5,811.7 845.5,809.6 853.5,810.7 861.5,813.8 869.5,831.1 877.5,829.7 885.5,824.9 893.5,820.4 901.5,812.1 909.5,816.3 917.5,824.9 925.5,822.8 933.5,829.7 941.5,829.7 949.5,863.7 957.5,846.4 965.5,861.6 973.5,865.1 981.5,849.8 989.5,836.0 997.5,833.9 1005.5,826.9 1013.5,825.1 1021.5,824.9 1029.5,820.0 1037.5,818.6 1045.5,817.9 1053.5,817.7 1061.5,815.9 1069.5,815.9 1077.5,812.1 1085.5,818.6 1093.5,813.8 1101.5,822.8 1109.5,822.8 1117.5,821.8 1125.5,820.0 1133.5,821.8 1141.5,805.2 1149.5,833.9 1157.5,849.8 1165.5,841.5 1173.5,829.7 1181.5,832.9 1189.5,842.9 1197.5,849.6 1205.5,832.3 1213.5,828.6 1221.5,822.9 1229.5,825.6 1237.5,816.2 1245.5,812.0 1253.5,807.8 1261.5,806.8 1269.5,806.8 1277.5,812.8 1285.5,807.8 1293.5,816.5 1301.5,825.6 1309.5,825.6 1317.5,820.8 1325.5,833.8 1333.5,831.6 1341.5,827.4 1349.5,817.7 1357.5,819.9 1365.5,815.8 1373.5,820.8 1381.5,820.3 1389.5,818.0 1397.5,812.8 1405.5,809.8 1413.5,812.0" fill="none" stroke="#1e90ff" stroke-width="1" shape-rendering="crispEdges"/>
<text x="1.50" y="764.00" font-size="10.4" fill="#000" textLength="67.30" lengthAdjust="spacingAndGlyphs">RSI(14) 64.6532</text>
<rect x="1730" y="20" width="1" height="925" fill="#d8d8d8"/>
<rect x="1685" y="46" width="2" height="1" fill="#000"/>
<text x="1690.00" y="50.00" font-size="10.4" fill="#000" textLength="33.00" lengthAdjust="spacingAndGlyphs">33579.5</text>
<rect x="1685" y="79" width="2" height="1" fill="#000"/>
<text x="1690.00" y="83.00" font-size="10.4" fill="#000" textLength="33.00" lengthAdjust="spacingAndGlyphs">33357.0</text>
<rect x="1685" y="112" width="2" height="1" fill="#000"/>
<text x="1690.00" y="116.00" font-size="10.4" fill="#000" textLength="33.00" lengthAdjust="spacingAndGlyphs">32608.0</text>
<rect x="1685" y="145" width="2" height="1" fill="#000"/>
<text x="1690.00" y="149.00" font-size="10.4" fill="#000" textLength="33.00" lengthAdjust="spacingAndGlyphs">32115.0</text>
<rect x="1685" y="178" width="2" height="1" fill="#000"/>
<text x="1690.00" y="182.00" font-size="10.4" fill="#000" textLength="33.00" lengthAdjust="spacingAndGlyphs">31636.5</text>
<rect x="1685" y="211" width="2" height="1" fill="#000"/>
<text x="1690.00" y="215.00" font-size="10.4" fill="#000" textLength="33.00" lengthAdjust="spacingAndGlyphs">31143.5</text>
<rect x="1685" y="244" width="2" height="1" fill="#000"/>
<text x="1690.00" y="248.00" font-size="10.4" fill="#000" textLength="33.00" lengthAdjust="spacingAndGlyphs">30665.0</text>
<rect x="1685" y="277" width="2" height="1" fill="#000"/>
<text x="1690.00" y="281.00" font-size="10.4" fill="#000" textLength="33.00" lengthAdjust="spacingAndGlyphs">30172.0</text>
<rect x="1685" y="310" width="2" height="1" fill="#000"/>
<text x="1690.00" y="314.00" font-size="10.4" fill="#000" textLength="33.00" lengthAdjust="spacingAndGlyphs">29693.5</text>
<rect x="1685" y="343" width="2" height="1" fill="#000"/>
<text x="1690.00" y="347.00" font-size="10.4" fill="#000" textLength="33.00" lengthAdjust="spacingAndGlyphs">29200.0</text>
<rect x="1685" y="376" width="2" height="1" fill="#000"/>
<text x="1690.00" y="380.00" font-size="10.4" fill="#000" textLength="33.00" lengthAdjust="spacingAndGlyphs">28722.0</text>
<rect x="1685" y="409" width="2" height="1" fill="#000"/>
<text x="1690.00" y="413.00" font-size="10.4" fill="#000" textLength="33.00" lengthAdjust="spacingAndGlyphs">28229.0</text>
<rect x="1685" y="442" width="2" height="1" fill="#000"/>
<text x="1690.00" y="446.00" font-size="10.4" fill="#000" textLength="33.00" lengthAdjust="spacingAndGlyphs">27750.5</text>
<rect x="1685" y="475" width="2" height="1" fill="#000"/>
<text x="1690.00" y="479.00" font-size="10.4" fill="#000" textLength="33.00" lengthAdjust="spacingAndGlyphs">27257.5</text>
<rect x="1685" y="508" width="2" height="1" fill="#000"/>
<text x="1690.00" y="512.00" font-size="10.4" fill="#000" textLength="33.00" lengthAdjust="spacingAndGlyphs">26779.0</text>
<rect x="1685" y="541" width="2" height="1" fill="#000"/>
<text x="1690.00" y="545.00" font-size="10.4" fill="#000" textLength="33.00" lengthAdjust="spacingAndGlyphs">26286.0</text>
<rect x="1685" y="574" width="2" height="1" fill="#000"/>
<text x="1690.00" y="578.00" font-size="10.4" fill="#000" textLength="33.00" lengthAdjust="spacingAndGlyphs">25807.5</text>
<rect x="1686" y="58" width="41" height="11" fill="#000"/>
<rect x="1686" y="22" width="41" height="8" fill="#ff0000"/>
<text x="1689.00" y="27.50" font-size="10.4" fill="#fff" textLength="33.00" lengthAdjust="spacingAndGlyphs">33878.0</text>
<rect x="1686" y="34" width="41" height="11" fill="#ff0000"/>
<text x="1689.00" y="42.60" font-size="10.4" fill="#fff" textLength="33.00" lengthAdjust="spacingAndGlyphs">33657.5</text>
<rect x="1686" y="61" width="41" height="11" fill="#32cd32"/>
<text x="1689.00" y="69.80" font-size="10.4" fill="#fff" textLength="33.00" lengthAdjust="spacingAndGlyphs">33260.6</text>
<rect x="1686" y="75" width="41" height="11" fill="#0000ff"/>
<text x="1689.00" y="83.60" font-size="10.4" fill="#fff" textLength="33.00" lengthAdjust="spacingAndGlyphs">33054.8</text>
<rect x="1686" y="90" width="41" height="11" fill="#0000ff"/>
<text x="1689.00" y="98.80" font-size="10.4" fill="#fff" textLength="33.00" lengthAdjust="spacingAndGlyphs">32834.4</text>
<rect x="1685" y="581" width="1" height="1" fill="#000"/>
<text x="1688.00" y="591.00" font-size="10.4" fill="#000" textLength="26.00" lengthAdjust="spacingAndGlyphs">565.66</text>
<rect x="1685" y="677" width="2" height="1" fill="#000"/>
<text x="1688.00" y="681.00" font-size="10.4" fill="#000" textLength="18.00" lengthAdjust="spacingAndGlyphs">0.00</text>
<rect x="1685" y="748" width="2" height="1" fill="#000"/>
<text x="1688.00" y="746.00" font-size="10.4" fill="#000" textLength="30.60" lengthAdjust="spacingAndGlyphs">-419.33</text>
<rect x="1685" y="753" width="1" height="1" fill="#000"/>
<text x="1688.50" y="762.00" font-size="10.4" fill="#000" textLength="14.30" lengthAdjust="spacingAndGlyphs">100</text>
<rect x="1685" y="787" width="2" height="1" fill="#000"/>
<text x="1688.00" y="791.50" font-size="10.4" fill="#000" textLength="10.00" lengthAdjust="spacingAndGlyphs">80</text>
<rect x="1685" y="838" width="2" height="1" fill="#000"/>
<text x="1688.00" y="842.00" font-size="10.4" fill="#000" textLength="10.00" lengthAdjust="spacingAndGlyphs">50</text>
<rect x="1685" y="899" width="2" height="1" fill="#000"/>
<text x="1688.00" y="903.50" font-size="10.4" fill="#000" textLength="10.00" lengthAdjust="spacingAndGlyphs">15</text>
<text x="1688.00" y="921.50" font-size="10.4" fill="#000" textLength="5.00" lengthAdjust="spacingAndGlyphs">0</text>
<rect x="-3" y="926" width="1" height="3" fill="#000"/>
<text x="-3.00" y="938.00" font-size="10.4" fill="#000" textLength="46.29" lengthAdjust="spacingAndGlyphs">8 Sep 2020</text>
<rect x="61" y="926" width="1" height="3" fill="#000"/>
<text x="61.00" y="938.00" font-size="10.4" fill="#000" textLength="51.32" lengthAdjust="spacingAndGlyphs">17 Sep 2020</text>
<rect x="125" y="926" width="1" height="3" fill="#000"/>
<text x="125.00" y="938.00" font-size="10.4" fill="#000" textLength="51.32" lengthAdjust="spacingAndGlyphs">27 Sep 2020</text>
<rect x="189" y="926" width="1" height="3" fill="#000"/>
<text x="189.00" y="938.00" font-size="10.4" fill="#000" textLength="44.26" lengthAdjust="spacingAndGlyphs">6 Oct 2020</text>
<rect x="253" y="926" width="1" height="3" fill="#000"/>
<text x="253.00" y="938.00" font-size="10.4" fill="#000" textLength="49.30" lengthAdjust="spacingAndGlyphs">15 Oct 2020</text>
<rect x="317" y="926" width="1" height="3" fill="#000"/>
<text x="317.00" y="938.00" font-size="10.4" fill="#000" textLength="49.30" lengthAdjust="spacingAndGlyphs">25 Oct 2020</text>
<rect x="381" y="926" width="1" height="3" fill="#000"/>
<text x="381.00" y="938.00" font-size="10.4" fill="#000" textLength="46.28" lengthAdjust="spacingAndGlyphs">3 Nov 2020</text>
<rect x="445" y="926" width="1" height="3" fill="#000"/>
<text x="445.00" y="938.00" font-size="10.4" fill="#000" textLength="51.31" lengthAdjust="spacingAndGlyphs">12 Nov 2020</text>
<rect x="509" y="926" width="1" height="3" fill="#000"/>
<text x="509.00" y="938.00" font-size="10.4" fill="#000" textLength="51.31" lengthAdjust="spacingAndGlyphs">22 Nov 2020</text>
<rect x="573" y="926" width="1" height="3" fill="#000"/>
<text x="573.00" y="938.00" font-size="10.4" fill="#000" textLength="46.28" lengthAdjust="spacingAndGlyphs">1 Dec 2020</text>
<rect x="637" y="926" width="1" height="3" fill="#000"/>
<text x="637.00" y="938.00" font-size="10.4" fill="#000" textLength="51.31" lengthAdjust="spacingAndGlyphs">10 Dec 2020</text>
<rect x="701" y="926" width="1" height="3" fill="#000"/>
<text x="701.00" y="938.00" font-size="10.4" fill="#000" textLength="51.31" lengthAdjust="spacingAndGlyphs">20 Dec 2020</text>
<rect x="765" y="926" width="1" height="3" fill="#000"/>
<text x="765.00" y="938.00" font-size="10.4" fill="#000" textLength="51.31" lengthAdjust="spacingAndGlyphs">30 Dec 2020</text>
<rect x="829" y="926" width="1" height="3" fill="#000"/>
<text x="829.00" y="938.00" font-size="10.4" fill="#000" textLength="49.81" lengthAdjust="spacingAndGlyphs">10 Jan 2021</text>
<rect x="893" y="926" width="1" height="3" fill="#000"/>
<text x="893.00" y="938.00" font-size="10.4" fill="#000" textLength="49.81" lengthAdjust="spacingAndGlyphs">19 Jan 2021</text>
<rect x="957" y="926" width="1" height="3" fill="#000"/>
<text x="957.00" y="938.00" font-size="10.4" fill="#000" textLength="49.81" lengthAdjust="spacingAndGlyphs">28 Jan 2021</text>
<rect x="1021" y="926" width="1" height="3" fill="#000"/>
<text x="1021.00" y="938.00" font-size="10.4" fill="#000" textLength="45.78" lengthAdjust="spacingAndGlyphs">7 Feb 2021</text>
<rect x="1085" y="926" width="1" height="3" fill="#000"/>
<text x="1085.00" y="938.00" font-size="10.4" fill="#000" textLength="50.81" lengthAdjust="spacingAndGlyphs">16 Feb 2021</text>
<rect x="1149" y="926" width="1" height="3" fill="#000"/>
<text x="1149.00" y="938.00" font-size="10.4" fill="#000" textLength="50.81" lengthAdjust="spacingAndGlyphs">25 Feb 2021</text>
<rect x="1213" y="926" width="1" height="3" fill="#000"/>
<text x="1213.00" y="938.00" font-size="10.4" fill="#000" textLength="45.77" lengthAdjust="spacingAndGlyphs">7 Mar 2021</text>
<rect x="1277" y="926" width="1" height="3" fill="#000"/>
<text x="1277.00" y="938.00" font-size="10.4" fill="#000" textLength="50.80" lengthAdjust="spacingAndGlyphs">16 Mar 2021</text>
<rect x="1341" y="926" width="1" height="3" fill="#000"/>
<text x="1341.00" y="938.00" font-size="10.4" fill="#000" textLength="50.80" lengthAdjust="spacingAndGlyphs">25 Mar 2021</text>
<rect x="1405" y="926" width="1" height="3" fill="#000"/>
<text x="1405.00" y="938.00" font-size="10.4" fill="#000" textLength="43.77" lengthAdjust="spacingAndGlyphs">5 Apr 2021</text>
<defs>
<linearGradient id="gTab" x1="0" y1="0" x2="0" y2="1"><stop offset="0" stop-color="#ff5a5a"/><stop offset="1" stop-color="#e23434"/></linearGradient>
<linearGradient id="gLow" x1="0" y1="0" x2="0" y2="1"><stop offset="0" stop-color="#e23434"/><stop offset="1" stop-color="#b00404"/></linearGradient>
<linearGradient id="gBtn" x1="0" y1="0" x2="0" y2="1"><stop offset="0" stop-color="#f4f4f4"/><stop offset="0.45" stop-color="#e6e6e6"/><stop offset="0.5" stop-color="#d8d8d8"/><stop offset="1" stop-color="#d0d0d0"/></linearGradient>
<linearGradient id="gTool" x1="0" y1="0" x2="0" y2="1"><stop offset="0" stop-color="#f2f2f2"/><stop offset="1" stop-color="#eeeeee"/></linearGradient>
</defs>
<rect x="0" y="44" width="52" height="25" fill="#b00000"/>
<rect x="1" y="45" width="50" height="23" fill="url(#gTab)"/>
<rect x="0" y="68" width="109" height="40" fill="#b00000"/>
<rect x="1" y="69" width="107" height="38" fill="url(#gLow)"/>
<rect x="1" y="68" width="50" height="1" fill="url(#gLow)"/>
<rect x="167" y="44" width="52" height="25" fill="#b00000"/>
<rect x="168" y="45" width="50" height="23" fill="url(#gTab)"/>
<rect x="111" y="68" width="108" height="40" fill="#b00000"/>
<rect x="112" y="69" width="106" height="38" fill="url(#gLow)"/>
<rect x="168" y="68" width="50" height="1" fill="url(#gLow)"/>
<rect x="4" y="67" width="44" height="1" fill="#800000"/>
<rect x="4" y="68" width="44" height="1" fill="#ff7070"/>
<rect x="171" y="67" width="45" height="1" fill="#800000"/>
<rect x="171" y="68" width="45" height="1" fill="#ff7070"/>
<text x="12.20" y="60.00" font-size="12.5" fill="#fff" textLength="25.60" lengthAdjust="spacingAndGlyphs">SELL</text>
<text x="180.60" y="60.00" font-size="12.5" fill="#fff" textLength="23.30" lengthAdjust="spacingAndGlyphs">BUY</text>
<text x="16.70" y="99.00" font-size="12" fill="#fff" textLength="34.00" lengthAdjust="spacingAndGlyphs" font-weight="bold">33324</text>
<text x="54.50" y="99.30" font-size="34" fill="#fff" textLength="23.00" lengthAdjust="spacingAndGlyphs">.5</text>
<text x="126.50" y="99.00" font-size="12" fill="#fff" textLength="34.00" lengthAdjust="spacingAndGlyphs" font-weight="bold">33333</text>
<text x="165.50" y="99.30" font-size="34" fill="#fff" textLength="23.00" lengthAdjust="spacingAndGlyphs">.5</text>
<rect x="54" y="44" width="112" height="23" fill="#a8abb3"/>
<rect x="55" y="45" width="110" height="21" fill="#ffffff"/>
<rect x="55" y="45" width="20" height="21" fill="url(#gBtn)"/>
<rect x="75" y="45" width="1" height="21" fill="#c0c4cc"/>
<rect x="143" y="45" width="1" height="21" fill="#c0c4cc"/>
<rect x="144" y="45" width="21" height="21" fill="url(#gBtn)"/>
<polygon points="62,53 67,53 64.5,56" fill="#4a5fc0"/>
<polygon points="151.5,56 156.5,56 154,53" fill="#4a5fc0"/>
<text x="116.90" y="59.00" font-size="12.5" fill="#000" textLength="22.90" lengthAdjust="spacingAndGlyphs">1.00</text>
<rect x="0" y="0" width="1731" height="20" fill="#f0f0f0"/>
<rect x="0" y="20" width="1731" height="1" fill="#6c6c6c"/>
<rect x="0" y="21" width="1731" height="1" fill="#a4a4a4"/>
<rect x="45" y="1" width="1" height="17" fill="#a0a0a0"/>
<rect x="281" y="1" width="1" height="17" fill="#a0a0a0"/>
<rect x="319" y="1" width="1" height="17" fill="#a0a0a0"/>
<rect x="376" y="1" width="1" height="17" fill="#a0a0a0"/>
<rect x="466" y="1" width="1" height="17" fill="#a0a0a0"/>
<rect x="499" y="1" width="1" height="17" fill="#a0a0a0"/>
<rect x="528" y="1" width="1" height="17" fill="#a0a0a0"/>
<rect x="649" y="1" width="1" height="17" fill="#a0a0a0"/>
<rect x="716" y="1" width="1" height="17" fill="#a0a0a0"/>
<rect x="956" y="1" width="1" height="17" fill="#a0a0a0"/>
<rect x="1216" y="1" width="1" height="17" fill="#a0a0a0"/>
<rect x="320" y="0" width="24" height="18" fill="#e6e6e6"/>
<rect x="319" y="0" width="1" height="18" fill="#c8c8c8"/>
<rect x="472" y="0" width="24" height="18" fill="#e6e6e6"/>
<rect x="471" y="0" width="1" height="18" fill="#c8c8c8"/>
<rect x="500" y="0" width="24" height="18" fill="#e6e6e6"/>
<rect x="499" y="0" width="1" height="18" fill="#c8c8c8"/>
<rect x="660" y="0" width="24" height="18" fill="#e6e6e6"/>
<rect x="659" y="0" width="1" height="18" fill="#c8c8c8"/>
<rect x="1134" y="0" width="24" height="18" fill="#e6e6e6"/>
<rect x="1133" y="0" width="1" height="18" fill="#c8c8c8"/>
<rect x="284" y="2" width="4" height="1" fill="#9a9a9a"/>
<rect x="284" y="4" width="4" height="1" fill="#9a9a9a"/>
<rect x="284" y="6" width="4" height="1" fill="#9a9a9a"/>
<rect x="284" y="8" width="4" height="1" fill="#9a9a9a"/>
<rect x="284" y="10" width="4" height="1" fill="#9a9a9a"/>
<rect x="284" y="12" width="4" height="1" fill="#9a9a9a"/>
<rect x="284" y="14" width="4" height="1" fill="#9a9a9a"/>
<rect x="284" y="16" width="4" height="1" fill="#9a9a9a"/>
<rect x="652" y="2" width="4" height="1" fill="#9a9a9a"/>
<rect x="652" y="4" width="4" height="1" fill="#9a9a9a"/>
<rect x="652" y="6" width="4" height="1" fill="#9a9a9a"/>
<rect x="652" y="8" width="4" height="1" fill="#9a9a9a"/>
<rect x="652" y="10" width="4" height="1" fill="#9a9a9a"/>
<rect x="652" y="12" width="4" height="1" fill="#9a9a9a"/>
<rect x="652" y="14" width="4" height="1" fill="#9a9a9a"/>
<rect x="652" y="16" width="4" height="1" fill="#9a9a9a"/>
<rect x="959" y="2" width="4" height="1" fill="#9a9a9a"/>
<rect x="959" y="4" width="4" height="1" fill="#9a9a9a"/>
<rect x="959" y="6" width="4" height="1" fill="#9a9a9a"/>
<rect x="959" y="8" width="4" height="1" fill="#9a9a9a"/>
<rect x="959" y="10" width="4" height="1" fill="#9a9a9a"/>
<rect x="959" y="12" width="4" height="1" fill="#9a9a9a"/>
<rect x="959" y="14" width="4" height="1" fill="#9a9a9a"/>
<rect x="959" y="16" width="4" height="1" fill="#9a9a9a"/>
<text x="970.50" y="12.00" font-size="10.4" fill="#333" textLength="12.50" lengthAdjust="spacingAndGlyphs">M1</text>
<text x="998.60" y="12.00" font-size="10.4" fill="#333" textLength="12.70" lengthAdjust="spacingAndGlyphs">M5</text>
<text x="1024.70" y="12.00" font-size="10.4" fill="#333" textLength="17.50" lengthAdjust="spacingAndGlyphs">M15</text>
<text x="1052.60" y="12.00" font-size="10.4" fill="#333" textLength="17.60" lengthAdjust="spacingAndGlyphs">M30</text>
<text x="1083.60" y="12.00" font-size="10.4" fill="#333" textLength="11.70" lengthAdjust="spacingAndGlyphs">H1</text>
<text x="1110.70" y="12.00" font-size="10.4" fill="#333" textLength="12.30" lengthAdjust="spacingAndGlyphs">H4</text>
<text x="1139.50" y="12.00" font-size="10.4" fill="#333" textLength="12.00" lengthAdjust="spacingAndGlyphs">D1</text>
<text x="1167.30" y="12.00" font-size="10.4" fill="#333" textLength="13.90" lengthAdjust="spacingAndGlyphs">W1</text>
<text x="1193.80" y="12.00" font-size="10.4" fill="#333" textLength="14.40" lengthAdjust="spacingAndGlyphs">MN</text>
<rect x="-3" y="1.5" width="10" height="13" fill="#fff" stroke="#3a78c8" stroke-width="1"/>
<path d="M0 4.5H6M0 7H6M0 9.5H6" stroke="#9ec3ee" stroke-width="1"/>
<rect x="3" y="11" width="2" height="2" fill="#000" transform="rotate(45 4 12)"/>
<rect x="20.5" y="0.5" width="11" height="13" fill="#f4f4f4" stroke="#b0a890"/>
<circle cx="27.5" cy="9" r="4.5" fill="#cfe2f5" stroke="#7aa6d8" stroke-width="1.3"/>
<path d="M30.5 12.5L36.5 17" stroke="#c8a020" stroke-width="2.2"/>
<path d="M55.5 0.5H64L67.5 4V13.5H55.5Z" fill="#fff" stroke="#808080"/>
<path d="M57 4H62M57 6.5H62M57 9H61" stroke="#909090"/>
<path d="M64.5 6V17M59 11.5H70" stroke="#22b822" stroke-width="3.2"/>
<path d="M122.5 9L128.5 1.5L137 7L131 14.5Z" fill="#f0c830" stroke="#b08010"/>
<path d="M122.5 9L123 10.5L131 16L137.5 9L137 7L131 14.5Z" fill="#c88a20" stroke="#9a6a10" stroke-width="0.8"/>
<path d="M125 8L129.5 3" stroke="#fff0a0" stroke-width="1"/>
<rect x="152" y="0.5" width="10" height="9" fill="#3a8ee8" stroke="#2060b0"/>
<path d="M154 4H160M154 6.5H160" stroke="#d0e8ff"/>
<g fill="#e8ecf4" stroke="#8a92b0" stroke-width="1"><circle cx="155" cy="13" r="3"/><circle cx="159.5" cy="11" r="3.6"/><circle cx="163.5" cy="13.2" r="2.8"/></g><rect x="154.5" y="12.5" width="9" height="3.2" fill="#e8ecf4"/><path d="M152 15.5H166" stroke="#8a92b0"/>
<circle cx="186" cy="8" r="7" fill="none" stroke="#a8c8e8" stroke-width="1"/>
<circle cx="186" cy="8" r="4.5" fill="none" stroke="#5a90d8" stroke-width="1"/>
<circle cx="186" cy="8" r="1.8" fill="#2a5ac0"/>
<path d="M186.5 8V15.5M187 15.5C190 15 193 12 193 8" stroke="#30a030" stroke-width="1.3" fill="none"/>
<ellipse cx="213" cy="4.5" rx="8" ry="3.2" fill="#6ab0e0" stroke="#3a80b8"/>
<path d="M206 6L214 15L220 8Z" fill="#f0d040" stroke="#c0a020"/>
<circle cx="217.5" cy="11.3" r="4.2" fill="#d82020"/>
<rect x="216" y="9.8" width="3" height="3" fill="#fff"/>
<path d="M299.5 2V16M298 13.5H311" stroke="#505050" stroke-width="1.2"/>
<path d="M298 4L299.5 2L301 4M309 12L311 13.5L309 15" stroke="#505050" fill="none"/>
<path d="M305.5 3.5V11.5M305.5 4H308M303 10.5H305.5" stroke="#20a020" stroke-width="1.3" fill="none"/>
<path d="M327.5 2V16M326 13.5H339" stroke="#505050" stroke-width="1.2"/>
<path d="M326 4L327.5 2L329 4M337 12L339 13.5L337 15" stroke="#505050" fill="none"/>
<rect x="331.5" y="2.5" width="4" height="7" fill="#40d040" stroke="#109010"/>
<path d="M333.5 0V2.5M333.5 9.5V11.5" stroke="#109010"/>
<path d="M355.5 2V16M354 13.5H367" stroke="#505050" stroke-width="1.2"/>
<path d="M354 4L355.5 2L357 4M365 12L367 13.5L365 15" stroke="#505050" fill="none"/>
<path d="M354 10.5L360 5.5L366 8.5" stroke="#20a020" stroke-width="1.2" fill="none"/>
<circle cx="391" cy="6" r="5.2" fill="#d4e8f8" stroke="#3a78d0" stroke-width="1.4"/>
<path d="M394.5 9.5L399.5 15" stroke="#c8a830" stroke-width="2.6"/>
<path d="M388 6H394" stroke="#3a70c0" stroke-width="1.8"/>
<path d="M391 3V9" stroke="#3a70c0" stroke-width="1.8"/>
<circle cx="419" cy="6" r="5.2" fill="#d4e8f8" stroke="#3a78d0" stroke-width="1.4"/>
<path d="M422.5 9.5L427.5 15" stroke="#c8a830" stroke-width="2.6"/>
<path d="M416 6H422" stroke="#3a70c0" stroke-width="1.8"/>
<rect x="441" y="0" width="8" height="7.5" fill="#40a040"/><rect x="449" y="0" width="8" height="7.5" fill="#3060d0"/><rect x="441" y="8" width="8" height="7.5" fill="#3060d0"/><rect x="449" y="8" width="8" height="7.5" fill="#40a040"/>
<path d="M443 4.5H447M451 4.5H455M443 12.5H447M451 12.5H455" stroke="#fff" stroke-width="1.5"/>
<path d="M479.5 2V16M478 13.5H491" stroke="#505050" stroke-width="1.2"/>
<path d="M478 4L479.5 2L481 4M489 12L491 13.5L489 15" stroke="#505050" fill="none"/>
<path d="M484 4L488 7.5L484 11Z" fill="#20b020"/>
<path d="M507.5 2V16M506 13.5H519" stroke="#505050" stroke-width="1.2"/>
<path d="M506 4L507.5 2L509 4M517 12L519 13.5L517 15" stroke="#505050" fill="none"/>
<path d="M513.5 2V12" stroke="#2070b0" stroke-width="1.2"/><path d="M514.5 7.5L518 5.5M514.5 7.5L518 9.5M514.5 7.5H519" stroke="#e05010" stroke-width="1.2"/>
<path d="M538.5 0.5H546L549.5 4V13.5H538.5Z" fill="#fff" stroke="#808080"/>
<path d="M546.5 6V17M541 11.5H552" stroke="#22b822" stroke-width="3.2"/>
<path d="M559.7 7H565.2L562.45 9.8Z" fill="#000"/>
<path d="M598.6 7H604.1L601.35 9.8Z" fill="#000"/>
<path d="M638 7H643.5L640.75 9.8Z" fill="#000"/>
<path d="M943.6 7H949.1L946.35 9.8Z" fill="#000"/>
<circle cx="584" cy="8" r="7.3" fill="#1a7ad8"/><circle cx="584" cy="8" r="5.3" fill="#fff"/><path d="M583.5 4.5V8.5H586.5" stroke="#222" stroke-width="1.1" fill="none"/>
<rect x="615.5" y="1.5" width="15" height="13" fill="#fff" stroke="#3a70c0" stroke-width="1.2"/>
<path d="M617 6.5L620 5.5L623 6.5L626 5L629 5.5" stroke="#b03010" fill="none"/><path d="M617 12L620 10.5L623 12L626 9.5L629 11.5" stroke="#20a020" fill="none"/><path d="M616 8.5H630" stroke="#3a70c0"/>
<path d="M667 1.5L667 13L670 10.5L672 15L674 14L672 9.5H675.5Z" fill="#505050"/>
<path d="M692 8.5H707M699.5 1V16" stroke="#404040" stroke-width="1.2"/>
<path d="M733.5 2V15" stroke="#404040" stroke-width="1.3"/>
<path d="M756 8.5H768" stroke="#404040" stroke-width="1.3"/>
<path d="M784 15L796 2.5" stroke="#404040" stroke-width="1.2"/>
<path d="M810 9.5L821 2M811 13.5L822 5M815 15L826 7" stroke="#404040" stroke-width="1"/>
<path d="M813 6V14M816 4V12M819 2V10M822 0V7" stroke="#404040" stroke-width="0.8"/>
<text x="821.00" y="16.00" font-size="8" fill="#303030" textLength="4.50" lengthAdjust="spacingAndGlyphs" font-weight="bold">E</text>
<path d="M839 1.5H853M839 4.5H853M839 8.5H853M839 12.5H851" stroke="#505050" stroke-dasharray="1,1"/>
<text x="848.50" y="17.00" font-size="8" fill="#303030" textLength="4.50" lengthAdjust="spacingAndGlyphs" font-weight="bold">F</text>
<text x="870.00" y="13.00" font-size="11" fill="#505050" textLength="7.30" lengthAdjust="spacingAndGlyphs">A</text>
<rect x="895.5" y="1.5" width="12" height="13" fill="none" stroke="#606060" stroke-dasharray="1,1"/>
<text x="897.50" y="12.50" font-size="11" fill="#505050" textLength="7.00" lengthAdjust="spacingAndGlyphs" font-weight="bold">T</text>
<path d="M923 5L926 2.5L929 5L926 7.5Z M932 12L935 9.5L938 12L935 14.5Z" fill="#404040"/><path d="M925 8.5L927.5 11.5L932 6.5" stroke="#404040" stroke-width="1.3" fill="none"/>
<circle cx="1687" cy="5" r="3.6" fill="none" stroke="#2a5ad8" stroke-width="1.5"/><path d="M1684.5 7.5L1679.5 12.5" stroke="#2a5ad8" stroke-width="2.4"/>
<ellipse cx="1709" cy="10.5" rx="5.5" ry="4.5" fill="#e0e2ea" stroke="#9a9a9a"/><path d="M1706 14L1705.5 17L1709 14.5" fill="#c0c0c8"/>
<circle cx="1717.5" cy="5.3" r="8" fill="#e03a1a"/>
<text x="1713.80" y="10.20" font-size="12.5" fill="#fff" textLength="6.00" lengthAdjust="spacingAndGlyphs">1</text>
<path d="M2.5 0.3L3 1.3M0.5 2H5M1.5 2.5L2 4M4 2.5L3.5 4M0.5 4.5H5M0.5 6H5M2.75 4.5V10M2.75 6.5L0.5 9M2.75 6.5L5 8.5M9.5 0.8L6.5 2M6.5 2V6L5.7 10M6.5 5H10M8.5 5V10" transform="translate(74.0 1.5) scale(1.0)" fill="none" stroke="#000" stroke-width="0.950" stroke-linecap="square"/>
<path d="M1 0.8L2 2M0.5 4H2V9L3.5 7.5M4.5 1.5H10M7.5 1.5V9.5L6.5 8.8" transform="translate(86.3 1.5) scale(1.0)" fill="none" stroke="#000" stroke-width="0.950" stroke-linecap="square"/>
<path d="M3 0.3L4 1.8M7 0.3L6 1.8M1.5 3H8.5V7H1.5ZM1.5 5H8.5M0.5 8.5H9.5M5 3V10" transform="translate(98.6 1.5) scale(1.0)" fill="none" stroke="#000" stroke-width="0.950" stroke-linecap="square"/>
<path d="M5 0L4 1.5M2 1.5H8V10H2ZM2 4.3H8M2 7.1H8" transform="translate(227.0 1.5) scale(1.0)" fill="none" stroke="#000" stroke-width="0.950" stroke-linecap="square"/>
<path d="M0.5 1.5H4.5M0 4H5M2.5 4L0.5 8.5L5 8M3.8 6.5L5 8.8M5.5 3H9.5L9 9.5L8 9M7.5 0.5V5L5.5 10" transform="translate(238.8 1.5) scale(1.0)" fill="none" stroke="#000" stroke-width="0.950" stroke-linecap="square"/>
<path d="M5 0V1.3M0.5 2H9.5M3 3L1 5M7 3L9 5M2.5 4.5L8.5 10M7.5 4.5L1 10" transform="translate(250.6 1.5) scale(1.0)" fill="none" stroke="#000" stroke-width="0.950" stroke-linecap="square"/>
<path d="M2.5 0.5H7.5V4.5H2.5ZM2.5 2.5H7.5M2.5 5.5L1 8M2.5 6H9L8.5 10L7.5 9.5M4.5 6.5L2.5 10M6.5 6.5L4.5 10" transform="translate(262.4 1.5) scale(1.0)" fill="none" stroke="#000" stroke-width="0.950" stroke-linecap="square"/>
<path d="M4.5 0.2L1.5 3.2M3 1.5H7L2 5.5M3 3L5 4M6 4.8L2 8.5M4.5 6.2H8.5L1.5 10.5M4.5 7.8L6.5 8.8" transform="translate(1503.5 64.2) scale(1.78)" fill="none" stroke="#00ff00" stroke-width="0.562" stroke-linecap="square"/>
<path d="M5 0V1.2M1 3V1.5H9V3M3.5 3L1.5 5.5M6.5 3L8.5 5.5M2.5 6H7.5M5 6V9.5M0.5 9.5H9.5" transform="translate(1525.1 64.2) scale(1.78)" fill="none" stroke="#00ff00" stroke-width="0.562" stroke-linecap="square"/>
<path d="M0.5 2H4M2 0L1 5H4M0.5 7.5L4 7M2.5 3.5V10M5 2.5H9.5M7.5 0L6.5 6M4.8 4.5H10M6 6H9.5L7.5 8.5L9 10" transform="translate(1546.7 64.2) scale(1.78)" fill="none" stroke="#00ff00" stroke-width="0.562" stroke-linecap="square"/>
<path d="M0.5 3H4M2.2 0V9.5L1.2 9M0.5 7L4 5.5M9.5 0.5L5.5 2M5.5 2V6L4.5 10M5.5 5H10M8 5V10" transform="translate(1568.3 64.2) scale(1.78)" fill="none" stroke="#00ff00" stroke-width="0.562" stroke-linecap="square"/>
<path d="M4.5 0V4M4.5 2H8M2 4H8V7H2ZM1 8L0.5 10M3.5 8.5L4 10M6 8.5L6.5 10M8.5 8L9.5 10" transform="translate(1589.9 64.2) scale(1.78)" fill="none" stroke="#00ff00" stroke-width="0.562" stroke-linecap="square"/>
</svg>
</body></html>
